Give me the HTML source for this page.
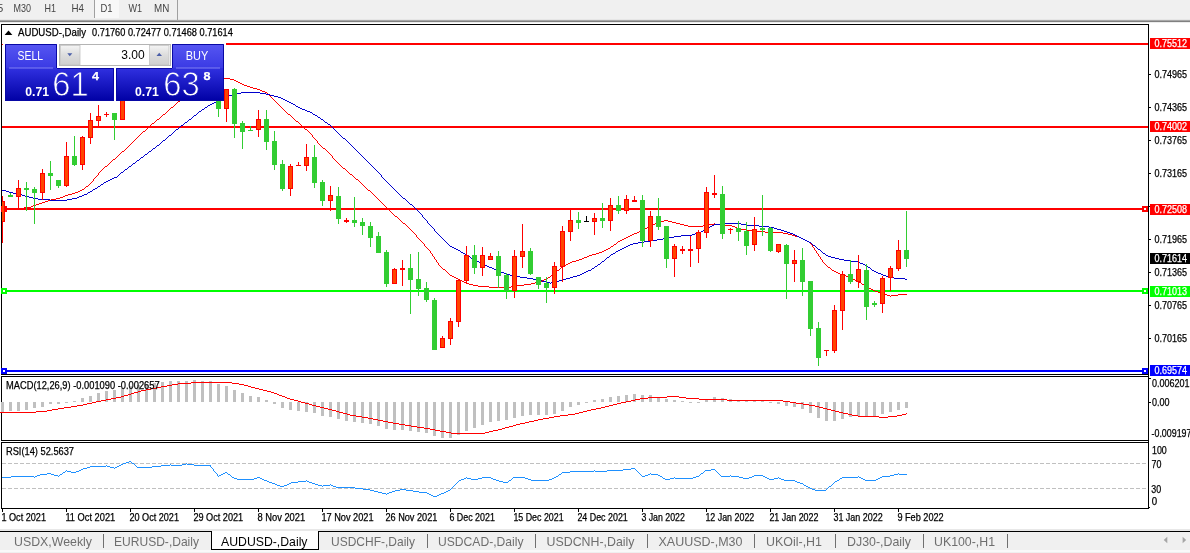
<!DOCTYPE html>
<html><head><meta charset="utf-8"><title>AUDUSD-,Daily</title>
<style>
html,body{margin:0;padding:0;background:#fff;overflow:hidden}
svg{display:block;font-family:"Liberation Sans",sans-serif}
text{white-space:pre}
</style></head><body>
<svg width="1190" height="553" viewBox="0 0 1190 553">
<rect x="0" y="0" width="1190" height="553" fill="#ffffff" />
<rect x="0" y="0" width="1190" height="20" fill="#f0f0f0" />
<rect x="0" y="19" width="1190" height="1" fill="#e6e6e6" />
<rect x="0" y="20" width="1190" height="1" fill="#a8a8a8" />
<rect x="0" y="21" width="1190" height="1" fill="#808080" />
<rect x="0" y="22" width="1190" height="1" fill="#ececec" />
<rect x="95" y="0" width="24" height="18" fill="#f8f8f8" />
<rect x="94" y="0" width="1" height="18" fill="#a0a0a0" />
<rect x="177" y="0" width="1" height="20" fill="#a0a0a0" />
<g font-size="10.8" fill="#444">
<text x="3.2" y="11.6" text-anchor="end">M5</text>
<text x="13.5" y="11.6" textLength="17.5" lengthAdjust="spacingAndGlyphs">M30</text>
<text x="44.5" y="11.6" textLength="11.5" lengthAdjust="spacingAndGlyphs">H1</text>
<text x="71.5" y="11.6" textLength="12.5" lengthAdjust="spacingAndGlyphs">H4</text>
<text x="100.4" y="11.6" textLength="12.1" lengthAdjust="spacingAndGlyphs">D1</text>
<text x="128.4" y="11.6" textLength="13.6" lengthAdjust="spacingAndGlyphs">W1</text>
<text x="154" y="11.6" textLength="15.3" lengthAdjust="spacingAndGlyphs">MN</text>
</g>
<g shape-rendering="crispEdges">
<rect x="1" y="24" width="1148" height="1" fill="#000" />
<rect x="1" y="24" width="1" height="351" fill="#000" />
<rect x="1" y="374" width="1148" height="1" fill="#000" />
<rect x="1148" y="24" width="1" height="485" fill="#000" />
<rect x="1" y="376" width="1148" height="1" fill="#000" />
<rect x="1" y="376" width="1" height="65" fill="#000" />
<rect x="1" y="440" width="1148" height="1" fill="#000" />
<rect x="1" y="442" width="1148" height="1" fill="#000" />
<rect x="1" y="442" width="1" height="67" fill="#000" />
<rect x="1" y="508" width="1148" height="1" fill="#000" />
</g>
<rect x="2" y="44" width="1" height="1" fill="#ff0000" />
<rect x="226" y="43" width="922" height="2" fill="#ff0000" shape-rendering="crispEdges"/>
<rect x="2" y="126" width="1146" height="2" fill="#ff0000" shape-rendering="crispEdges"/>
<rect x="2" y="208" width="1146" height="2" fill="#ff0000" shape-rendering="crispEdges"/>
<rect x="2" y="290" width="1146" height="2" fill="#00ff00" shape-rendering="crispEdges"/>
<rect x="2" y="370" width="1146" height="2" fill="#0000ff" shape-rendering="crispEdges"/>
<rect x="1" y="206" width="6" height="6" fill="#ff0000" shape-rendering="crispEdges"/>
<rect x="3" y="208" width="2" height="2" fill="#fff" shape-rendering="crispEdges"/>
<rect x="1142" y="206" width="6" height="6" fill="#ff0000" shape-rendering="crispEdges"/>
<rect x="1144" y="208" width="2" height="2" fill="#fff" shape-rendering="crispEdges"/>
<rect x="1" y="288" width="6" height="6" fill="#00ff00" shape-rendering="crispEdges"/>
<rect x="3" y="290" width="2" height="2" fill="#fff" shape-rendering="crispEdges"/>
<rect x="1142" y="288" width="6" height="6" fill="#00ff00" shape-rendering="crispEdges"/>
<rect x="1144" y="290" width="2" height="2" fill="#fff" shape-rendering="crispEdges"/>
<rect x="1" y="368" width="6" height="6" fill="#0000ff" shape-rendering="crispEdges"/>
<rect x="3" y="370" width="2" height="2" fill="#fff" shape-rendering="crispEdges"/>
<rect x="1142" y="368" width="6" height="6" fill="#0000ff" shape-rendering="crispEdges"/>
<rect x="1144" y="370" width="2" height="2" fill="#fff" shape-rendering="crispEdges"/>
<clipPath id="cm"><rect x="2" y="25" width="1146" height="349"/></clipPath>
<g clip-path="url(#cm)">
<path d="M8.5,209v1M9.5,209v1M10.5,209v1M11.5,209v1M12.5,209v1M13.5,209v1M14.5,209v1M15.5,209v1M16.5,208v1M17.5,208v1M18.5,208v1M19.5,208v1M20.5,208v1M21.5,208v1M22.5,208v1M23.5,208v1M24.5,207v1M25.5,207v1M26.5,207v1M27.5,207v1M28.5,207v1M29.5,207v1M30.5,207v1M31.5,206v1M32.5,206v1M33.5,205v1M34.5,205v1M35.5,205v1M36.5,204v1M37.5,204v1M38.5,204v1M39.5,203v1M40.5,203v1M41.5,203v1M42.5,202v1M43.5,202v1M44.5,202v1M45.5,201v1M46.5,201v1M47.5,201v1M48.5,200v1M49.5,200v1M50.5,200v1M51.5,199v1M52.5,199v1M53.5,199v1M54.5,199v1M55.5,199v1M56.5,198v1M57.5,198v1M58.5,198v1M59.5,198v1M60.5,197v1M61.5,197v1M62.5,197v1M63.5,196v1M64.5,196v1M65.5,195v1M66.5,195v1M67.5,195v1M68.5,194v1M69.5,194v1M70.5,194v1M71.5,194v1M72.5,193v1M73.5,193v1M74.5,193v1M75.5,192v1M76.5,192v1M77.5,192v1M78.5,191v1M79.5,191v1M80.5,190v1M81.5,190v1M82.5,189v1M83.5,189v1M84.5,188v1M85.5,187v1M86.5,186v1M87.5,186v1M88.5,185v1M89.5,184v1M90.5,183v1M91.5,182v1M92.5,181v1M93.5,179v2M94.5,178v1M95.5,177v1M96.5,176v1M97.5,175v1M98.5,173v2M99.5,172v1M100.5,171v1M101.5,170v1M102.5,169v1M103.5,168v1M104.5,167v1M105.5,166v1M106.5,166v1M107.5,165v1M108.5,164v1M109.5,163v1M110.5,162v1M111.5,161v1M112.5,160v1M113.5,159v1M114.5,159v1M115.5,158v1M116.5,157v1M117.5,156v1M118.5,155v1M119.5,154v1M120.5,153v1M121.5,152v1M122.5,151v1M123.5,151v1M124.5,150v1M125.5,149v1M126.5,148v1M127.5,147v1M128.5,146v1M129.5,145v1M130.5,144v1M131.5,143v1M132.5,142v1M133.5,141v1M134.5,140v1M135.5,139v1M136.5,138v1M137.5,137v1M138.5,136v1M139.5,135v1M140.5,134v1M141.5,133v1M142.5,132v1M143.5,131v1M144.5,131v1M145.5,130v1M146.5,129v1M147.5,128v1M148.5,127v1M149.5,126v1M150.5,125v1M151.5,124v1M152.5,123v1M153.5,123v1M154.5,122v1M155.5,121v1M156.5,120v1M157.5,119v1M158.5,119v1M159.5,118v1M160.5,117v1M161.5,116v1M162.5,115v1M163.5,114v1M164.5,114v1M165.5,113v1M166.5,112v1M167.5,111v1M168.5,110v1M169.5,109v1M170.5,108v1M171.5,107v1M172.5,107v1M173.5,106v1M174.5,105v1M175.5,104v1M176.5,103v1M177.5,102v1M178.5,101v1M179.5,101v1M180.5,100v1M181.5,99v1M182.5,98v1M183.5,98v1M184.5,97v1M185.5,96v1M186.5,95v1M187.5,94v1M188.5,94v1M189.5,93v1M190.5,92v1M191.5,91v1M192.5,91v1M193.5,90v1M194.5,89v1M195.5,89v1M196.5,88v1M197.5,87v1M198.5,87v1M199.5,86v1M200.5,85v1M201.5,85v1M202.5,84v1M203.5,83v1M204.5,83v1M205.5,82v1M206.5,82v1M207.5,81v1M208.5,81v1M209.5,81v1M210.5,80v1M211.5,80v1M212.5,80v1M213.5,79v1M214.5,79v1M215.5,79v1M216.5,78v1M217.5,78v1M218.5,78v1M219.5,78v1M220.5,78v1M221.5,78v1M222.5,78v1M223.5,78v1M224.5,78v1M225.5,78v1M226.5,78v1M227.5,78v1M228.5,78v1M229.5,78v1M230.5,79v1M231.5,79v1M232.5,79v1M233.5,79v1M234.5,80v1M235.5,80v1M236.5,81v1M237.5,81v1M238.5,82v1M239.5,82v1M240.5,83v1M241.5,83v1M242.5,84v1M243.5,84v1M244.5,85v1M245.5,85v1M246.5,85v1M247.5,86v1M248.5,86v1M249.5,86v1M250.5,87v1M251.5,87v1M252.5,87v1M253.5,88v1M254.5,88v1M255.5,88v1M256.5,88v1M257.5,89v1M258.5,89v1M259.5,89v1M260.5,90v1M261.5,90v1M262.5,91v1M263.5,91v1M264.5,91v1M265.5,92v1M266.5,92v1M267.5,93v1M268.5,94v1M269.5,95v1M270.5,96v1M271.5,97v1M272.5,98v1M273.5,99v1M274.5,100v1M275.5,101v1M276.5,102v1M277.5,103v1M278.5,104v1M279.5,105v1M280.5,106v1M281.5,107v1M282.5,108v1M283.5,109v1M284.5,110v1M285.5,111v1M286.5,112v1M287.5,113v1M288.5,114v1M289.5,114v1M290.5,115v1M291.5,116v1M292.5,117v1M293.5,118v1M294.5,119v1M295.5,120v1M296.5,121v1M297.5,121v1M298.5,122v1M299.5,123v1M300.5,124v1M301.5,125v1M302.5,126v1M303.5,127v1M304.5,128v1M305.5,129v1M306.5,129v1M307.5,130v1M308.5,131v1M309.5,132v1M310.5,133v1M311.5,134v1M312.5,135v2M313.5,137v1M314.5,138v1M315.5,139v1M316.5,140v1M317.5,141v2M318.5,143v1M319.5,144v1M320.5,145v1M321.5,146v1M322.5,147v1M323.5,148v1M324.5,148v1M325.5,149v1M326.5,150v1M327.5,151v1M328.5,152v1M329.5,153v1M330.5,154v1M331.5,155v1M332.5,156v2M333.5,158v1M334.5,159v1M335.5,160v1M336.5,161v1M337.5,162v1M338.5,163v1M339.5,164v1M340.5,165v1M341.5,166v1M342.5,167v1M343.5,168v1M344.5,168v1M345.5,169v1M346.5,170v1M347.5,171v1M348.5,172v1M349.5,173v1M350.5,174v1M351.5,174v1M352.5,175v1M353.5,176v1M354.5,177v1M355.5,178v1M356.5,179v1M357.5,179v1M358.5,180v1M359.5,181v1M360.5,182v1M361.5,183v1M362.5,184v1M363.5,185v1M364.5,186v1M365.5,187v1M366.5,188v1M367.5,189v1M368.5,190v1M369.5,190v1M370.5,191v1M371.5,192v1M372.5,193v1M373.5,194v1M374.5,195v1M375.5,196v1M376.5,197v1M377.5,198v1M378.5,199v1M379.5,200v1M380.5,201v1M381.5,202v1M382.5,203v1M383.5,204v1M384.5,205v1M385.5,206v1M386.5,207v1M387.5,208v1M388.5,209v1M389.5,210v1M390.5,211v1M391.5,212v1M392.5,213v1M393.5,214v1M394.5,215v1M395.5,216v1M396.5,216v1M397.5,217v1M398.5,218v1M399.5,219v1M400.5,220v1M401.5,221v1M402.5,222v1M403.5,223v1M404.5,223v1M405.5,224v1M406.5,225v1M407.5,226v1M408.5,227v1M409.5,228v1M410.5,229v1M411.5,230v1M412.5,231v1M413.5,232v1M414.5,233v1M415.5,234v1M416.5,235v2M417.5,237v1M418.5,238v1M419.5,239v1M420.5,240v1M421.5,241v1M422.5,242v1M423.5,243v1M424.5,244v2M425.5,246v1M426.5,247v1M427.5,248v1M428.5,249v1M429.5,250v1M430.5,251v2M431.5,253v1M432.5,254v2M433.5,256v1M434.5,257v2M435.5,259v1M436.5,260v2M437.5,262v1M438.5,263v2M439.5,265v1M440.5,266v1M441.5,267v1M442.5,268v1M443.5,269v1M444.5,269v1M445.5,270v1M446.5,271v1M447.5,272v1M448.5,273v1M449.5,274v1M450.5,275v1M451.5,275v1M452.5,276v1M453.5,276v1M454.5,277v1M455.5,277v1M456.5,278v1M457.5,278v1M458.5,279v1M459.5,279v1M460.5,280v1M461.5,280v1M462.5,281v1M463.5,281v1M464.5,282v1M465.5,282v1M466.5,282v1M467.5,283v1M468.5,283v1M469.5,284v1M470.5,284v1M471.5,284v1M472.5,284v1M473.5,285v1M474.5,285v1M475.5,285v1M476.5,285v1M477.5,285v1M478.5,286v1M479.5,286v1M480.5,286v1M481.5,286v1M482.5,286v1M483.5,286v1M484.5,286v1M485.5,286v1M486.5,286v1M487.5,286v1M488.5,286v1M489.5,287v1M490.5,287v1M491.5,287v1M492.5,287v1M493.5,287v1M494.5,287v1M495.5,287v1M496.5,287v1M497.5,287v1M498.5,287v1M499.5,287v1M500.5,287v1M501.5,287v1M502.5,287v1M503.5,287v1M504.5,287v1M505.5,287v1M506.5,287v1M507.5,287v1M508.5,287v1M509.5,287v1M510.5,287v1M511.5,286v1M512.5,286v1M513.5,286v1M514.5,286v1M515.5,286v1M516.5,286v1M517.5,285v1M518.5,285v1M519.5,285v1M520.5,285v1M521.5,285v1M522.5,285v1M523.5,285v1M524.5,284v1M525.5,284v1M526.5,284v1M527.5,284v1M528.5,284v1M529.5,284v1M530.5,284v1M531.5,283v1M532.5,283v1M533.5,283v1M534.5,283v1M535.5,282v1M536.5,282v1M537.5,282v1M538.5,282v1M539.5,281v1M540.5,281v1M541.5,281v1M542.5,280v1M543.5,280v1M544.5,279v1M545.5,279v1M546.5,278v1M547.5,278v1M548.5,277v1M549.5,277v1M550.5,276v1M551.5,275v1M552.5,274v1M553.5,274v1M554.5,273v1M555.5,272v1M556.5,271v1M557.5,270v1M558.5,270v1M559.5,269v1M560.5,268v1M561.5,267v1M562.5,267v1M563.5,266v1M564.5,266v1M565.5,265v1M566.5,264v1M567.5,264v1M568.5,263v1M569.5,263v1M570.5,262v1M571.5,262v1M572.5,261v1M573.5,261v1M574.5,261v1M575.5,261v1M576.5,260v1M577.5,260v1M578.5,260v1M579.5,259v1M580.5,259v1M581.5,259v1M582.5,258v1M583.5,258v1M584.5,257v1M585.5,257v1M586.5,257v1M587.5,256v1M588.5,256v1M589.5,255v1M590.5,255v1M591.5,255v1M592.5,254v1M593.5,254v1M594.5,254v1M595.5,254v1M596.5,253v1M597.5,253v1M598.5,253v1M599.5,252v1M600.5,252v1M601.5,252v1M602.5,251v1M603.5,251v1M604.5,250v1M605.5,250v1M606.5,249v1M607.5,249v1M608.5,248v1M609.5,248v1M610.5,247v1M611.5,246v1M612.5,246v1M613.5,245v1M614.5,244v1M615.5,244v1M616.5,243v1M617.5,242v1M618.5,241v1M619.5,241v1M620.5,240v1M621.5,240v1M622.5,239v1M623.5,239v1M624.5,238v1M625.5,238v1M626.5,237v1M627.5,237v1M628.5,236v1M629.5,236v1M630.5,235v1M631.5,235v1M632.5,234v1M633.5,234v1M634.5,233v1M635.5,233v1M636.5,233v1M637.5,232v1M638.5,232v1M639.5,231v1M640.5,231v1M641.5,230v1M642.5,230v1M643.5,229v1M644.5,229v1M645.5,228v1M646.5,228v1M647.5,227v1M648.5,227v1M649.5,226v1M650.5,226v1M651.5,225v1M652.5,225v1M653.5,224v1M654.5,224v1M655.5,223v1M656.5,223v1M657.5,222v1M658.5,222v1M659.5,221v1M660.5,221v1M661.5,221v1M662.5,221v1M663.5,221v1M664.5,220v1M665.5,220v1M666.5,220v1M667.5,220v1M668.5,221v1M669.5,221v1M670.5,221v1M671.5,221v1M672.5,222v1M673.5,222v1M674.5,222v1M675.5,222v1M676.5,223v1M677.5,223v1M678.5,223v1M679.5,223v1M680.5,224v1M681.5,224v1M682.5,224v1M683.5,224v1M684.5,225v1M685.5,225v1M686.5,225v1M687.5,225v1M688.5,226v1M689.5,226v1M690.5,226v1M691.5,226v1M692.5,226v1M693.5,226v1M694.5,226v1M695.5,226v1M696.5,226v1M697.5,226v1M698.5,226v1M699.5,226v1M700.5,226v1M701.5,226v1M702.5,226v1M703.5,225v1M704.5,225v1M705.5,225v1M706.5,225v1M707.5,225v1M708.5,225v1M709.5,224v1M710.5,224v1M711.5,224v1M712.5,224v1M713.5,224v1M714.5,223v1M715.5,224v1M716.5,224v1M717.5,224v1M718.5,224v1M719.5,224v1M720.5,224v1M721.5,224v1M722.5,224v1M723.5,224v1M724.5,224v1M725.5,225v1M726.5,225v1M727.5,225v1M728.5,225v1M729.5,225v1M730.5,225v1M731.5,225v1M732.5,226v1M733.5,226v1M734.5,226v1M735.5,227v1M736.5,227v1M737.5,228v1M738.5,228v1M739.5,228v1M740.5,229v1M741.5,229v1M742.5,229v1M743.5,229v1M744.5,229v1M745.5,229v1M746.5,229v1M747.5,230v1M748.5,230v1M749.5,230v1M750.5,230v1M751.5,230v1M752.5,230v1M753.5,230v1M754.5,230v1M755.5,231v1M756.5,231v1M757.5,231v1M758.5,231v1M759.5,231v1M760.5,231v1M761.5,231v1M762.5,231v1M763.5,231v1M764.5,231v1M765.5,232v1M766.5,232v1M767.5,232v1M768.5,232v1M769.5,232v1M770.5,232v1M771.5,232v1M772.5,232v1M773.5,232v1M774.5,232v1M775.5,232v1M776.5,232v1M777.5,232v1M778.5,232v1M779.5,232v1M780.5,232v1M781.5,232v1M782.5,232v1M783.5,233v1M784.5,233v1M785.5,233v1M786.5,233v1M787.5,233v1M788.5,234v1M789.5,234v1M790.5,234v1M791.5,234v1M792.5,235v1M793.5,235v1M794.5,235v1M795.5,236v1M796.5,236v1M797.5,236v1M798.5,236v1M799.5,237v1M800.5,237v1M801.5,238v1M802.5,238v1M803.5,239v1M804.5,239v1M805.5,240v1M806.5,240v1M807.5,241v1M808.5,241v1M809.5,242v1M810.5,242v2M811.5,244v1M812.5,245v2M813.5,247v1M814.5,248v2M815.5,250v1M816.5,251v2M817.5,253v1M818.5,254v2M819.5,256v1M820.5,257v2M821.5,259v1M822.5,260v2M823.5,262v1M824.5,263v1M825.5,264v1M826.5,265v1M827.5,266v1M828.5,267v1M829.5,267v1M830.5,268v1M831.5,269v1M832.5,270v1M833.5,270v1M834.5,271v1M835.5,271v1M836.5,272v1M837.5,272v1M838.5,273v1M839.5,273v1M840.5,274v1M841.5,274v1M842.5,274v1M843.5,275v1M844.5,275v1M845.5,275v1M846.5,276v1M847.5,276v1M848.5,276v1M849.5,277v1M850.5,277v1M851.5,278v1M852.5,278v1M853.5,279v1M854.5,279v1M855.5,280v1M856.5,280v1M857.5,281v1M858.5,281v1M859.5,282v1M860.5,282v1M861.5,283v1M862.5,284v1M863.5,284v1M864.5,285v1M865.5,285v1M866.5,286v1M867.5,287v1M868.5,287v1M869.5,288v1M870.5,288v1M871.5,289v1M872.5,289v1M873.5,290v1M874.5,290v1M875.5,291v1M876.5,291v1M877.5,291v1M878.5,292v1M879.5,292v1M880.5,293v1M881.5,293v1M882.5,293v1M883.5,294v1M884.5,294v1M885.5,294v1M886.5,294v1M887.5,295v1M888.5,295v1M889.5,295v1M890.5,296v1M891.5,295v1M892.5,295v1M893.5,295v1M894.5,295v1M895.5,295v1M896.5,295v1M897.5,295v1M898.5,294v1M899.5,294v1M900.5,294v1M901.5,294v1M902.5,294v1M903.5,294v1M904.5,294v1M905.5,294v1M906.5,294v1" fill="none" stroke="#ff0000" stroke-width="1" shape-rendering="crispEdges"/>
<path d="M2.5,190v1M3.5,190v1M4.5,190v1M5.5,190v1M6.5,191v1M7.5,191v1M8.5,191v1M9.5,192v1M10.5,192v1M11.5,192v1M12.5,192v1M13.5,193v1M14.5,193v1M15.5,193v1M16.5,193v1M17.5,193v1M18.5,194v1M19.5,194v1M20.5,194v1M21.5,194v1M22.5,195v1M23.5,195v1M24.5,195v1M25.5,196v1M26.5,196v1M27.5,196v1M28.5,196v1M29.5,197v1M30.5,197v1M31.5,197v1M32.5,197v1M33.5,198v1M34.5,198v1M35.5,198v1M36.5,198v1M37.5,198v1M38.5,199v1M39.5,199v1M40.5,199v1M41.5,199v1M42.5,199v1M43.5,199v1M44.5,199v1M45.5,199v1M46.5,199v1M47.5,199v1M48.5,199v1M49.5,199v1M50.5,200v1M51.5,200v1M52.5,200v1M53.5,200v1M54.5,200v1M55.5,200v1M56.5,200v1M57.5,200v1M58.5,200v1M59.5,200v1M60.5,200v1M61.5,200v1M62.5,200v1M63.5,200v1M64.5,200v1M65.5,200v1M66.5,200v1M67.5,199v1M68.5,199v1M69.5,199v1M70.5,199v1M71.5,199v1M72.5,198v1M73.5,198v1M74.5,198v1M75.5,198v1M76.5,198v1M77.5,197v1M78.5,197v1M79.5,196v1M80.5,196v1M81.5,196v1M82.5,195v1M83.5,195v1M84.5,194v1M85.5,194v1M86.5,194v1M87.5,193v1M88.5,192v1M89.5,192v1M90.5,191v1M91.5,191v1M92.5,190v1M93.5,189v1M94.5,189v1M95.5,188v1M96.5,188v1M97.5,187v1M98.5,186v1M99.5,186v1M100.5,185v1M101.5,184v1M102.5,184v1M103.5,183v1M104.5,182v1M105.5,182v1M106.5,181v1M107.5,181v1M108.5,180v1M109.5,180v1M110.5,179v1M111.5,179v1M112.5,178v1M113.5,178v1M114.5,177v1M115.5,177v1M116.5,177v1M117.5,176v1M118.5,175v1M119.5,174v1M120.5,173v1M121.5,172v1M122.5,172v1M123.5,171v1M124.5,170v1M125.5,169v1M126.5,169v1M127.5,168v1M128.5,167v1M129.5,166v1M130.5,166v1M131.5,165v1M132.5,164v1M133.5,163v1M134.5,163v1M135.5,162v1M136.5,161v1M137.5,160v1M138.5,160v1M139.5,159v1M140.5,158v1M141.5,157v1M142.5,157v1M143.5,156v1M144.5,155v1M145.5,154v1M146.5,154v1M147.5,153v1M148.5,152v1M149.5,151v1M150.5,151v1M151.5,150v1M152.5,149v1M153.5,148v1M154.5,148v1M155.5,147v1M156.5,146v1M157.5,145v1M158.5,145v1M159.5,144v1M160.5,143v1M161.5,142v1M162.5,141v1M163.5,140v1M164.5,140v1M165.5,139v1M166.5,138v1M167.5,137v1M168.5,136v1M169.5,135v1M170.5,135v1M171.5,134v1M172.5,133v1M173.5,132v1M174.5,131v1M175.5,130v1M176.5,129v1M177.5,129v1M178.5,128v1M179.5,127v1M180.5,126v1M181.5,125v1M182.5,125v1M183.5,124v1M184.5,123v1M185.5,122v1M186.5,122v1M187.5,121v1M188.5,120v1M189.5,119v1M190.5,119v1M191.5,118v1M192.5,117v1M193.5,116v1M194.5,115v1M195.5,115v1M196.5,114v1M197.5,113v1M198.5,112v1M199.5,111v1M200.5,111v1M201.5,110v1M202.5,109v1M203.5,109v1M204.5,108v1M205.5,107v1M206.5,107v1M207.5,106v1M208.5,105v1M209.5,105v1M210.5,104v1M211.5,104v1M212.5,103v1M213.5,103v1M214.5,102v1M215.5,102v1M216.5,101v1M217.5,101v1M218.5,100v1M219.5,100v1M220.5,100v1M221.5,99v1M222.5,99v1M223.5,98v1M224.5,98v1M225.5,97v1M226.5,97v1M227.5,96v1M228.5,96v1M229.5,95v1M230.5,95v1M231.5,95v1M232.5,94v1M233.5,94v1M234.5,94v1M235.5,94v1M236.5,93v1M237.5,93v1M238.5,93v1M239.5,93v1M240.5,93v1M241.5,92v1M242.5,92v1M243.5,92v1M244.5,92v1M245.5,92v1M246.5,92v1M247.5,92v1M248.5,92v1M249.5,92v1M250.5,92v1M251.5,92v1M252.5,92v1M253.5,92v1M254.5,92v1M255.5,92v1M256.5,92v1M257.5,92v1M258.5,92v1M259.5,92v1M260.5,93v1M261.5,93v1M262.5,93v1M263.5,93v1M264.5,93v1M265.5,93v1M266.5,94v1M267.5,94v1M268.5,94v1M269.5,94v1M270.5,95v1M271.5,95v1M272.5,95v1M273.5,95v1M274.5,96v1M275.5,96v1M276.5,96v1M277.5,96v1M278.5,97v1M279.5,97v1M280.5,97v1M281.5,98v1M282.5,98v1M283.5,99v1M284.5,99v1M285.5,100v1M286.5,100v1M287.5,101v1M288.5,101v1M289.5,102v1M290.5,102v1M291.5,103v1M292.5,103v1M293.5,104v1M294.5,104v1M295.5,105v1M296.5,106v1M297.5,106v1M298.5,107v1M299.5,107v1M300.5,108v1M301.5,108v1M302.5,109v1M303.5,109v1M304.5,109v1M305.5,110v1M306.5,110v1M307.5,111v1M308.5,111v1M309.5,111v1M310.5,112v1M311.5,112v1M312.5,113v1M313.5,114v1M314.5,114v1M315.5,115v1M316.5,115v1M317.5,116v1M318.5,117v1M319.5,117v1M320.5,118v1M321.5,119v1M322.5,119v1M323.5,120v1M324.5,121v1M325.5,122v1M326.5,122v1M327.5,123v1M328.5,124v1M329.5,124v1M330.5,125v1M331.5,126v1M332.5,127v1M333.5,128v1M334.5,129v1M335.5,130v1M336.5,131v1M337.5,132v1M338.5,133v1M339.5,134v1M340.5,135v1M341.5,136v1M342.5,137v1M343.5,138v1M344.5,138v1M345.5,139v1M346.5,140v1M347.5,141v1M348.5,142v1M349.5,143v1M350.5,144v1M351.5,145v1M352.5,146v1M353.5,147v1M354.5,148v1M355.5,149v1M356.5,150v1M357.5,151v1M358.5,152v1M359.5,153v1M360.5,154v1M361.5,155v1M362.5,156v1M363.5,157v1M364.5,158v1M365.5,159v1M366.5,160v1M367.5,161v1M368.5,162v1M369.5,163v1M370.5,164v1M371.5,165v1M372.5,166v1M373.5,167v1M374.5,168v1M375.5,169v1M376.5,170v1M377.5,171v1M378.5,172v1M379.5,173v1M380.5,174v1M381.5,175v2M382.5,177v1M383.5,178v1M384.5,179v1M385.5,180v1M386.5,181v1M387.5,182v1M388.5,183v1M389.5,184v1M390.5,185v1M391.5,186v1M392.5,187v1M393.5,188v1M394.5,189v1M395.5,190v1M396.5,191v1M397.5,192v1M398.5,193v1M399.5,194v1M400.5,195v1M401.5,196v1M402.5,197v1M403.5,198v1M404.5,198v1M405.5,199v1M406.5,200v1M407.5,201v1M408.5,202v1M409.5,203v1M410.5,204v1M411.5,204v1M412.5,205v1M413.5,206v1M414.5,207v1M415.5,208v1M416.5,209v1M417.5,210v1M418.5,211v1M419.5,212v1M420.5,213v1M421.5,214v1M422.5,215v2M423.5,217v1M424.5,218v1M425.5,219v1M426.5,220v1M427.5,221v2M428.5,223v1M429.5,224v1M430.5,225v1M431.5,226v1M432.5,227v1M433.5,228v1M434.5,229v2M435.5,231v1M436.5,232v1M437.5,233v1M438.5,234v1M439.5,235v1M440.5,236v1M441.5,237v1M442.5,238v1M443.5,239v1M444.5,240v1M445.5,241v1M446.5,242v1M447.5,243v1M448.5,244v1M449.5,245v1M450.5,246v1M451.5,246v1M452.5,247v1M453.5,247v1M454.5,248v1M455.5,248v1M456.5,249v1M457.5,249v1M458.5,250v1M459.5,250v1M460.5,251v1M461.5,252v1M462.5,252v1M463.5,253v1M464.5,253v1M465.5,254v1M466.5,255v1M467.5,255v1M468.5,256v1M469.5,256v1M470.5,257v1M471.5,258v1M472.5,258v1M473.5,259v1M474.5,259v1M475.5,260v1M476.5,260v1M477.5,261v1M478.5,261v1M479.5,262v1M480.5,262v1M481.5,263v1M482.5,263v1M483.5,264v1M484.5,264v1M485.5,265v1M486.5,265v1M487.5,266v1M488.5,266v1M489.5,267v1M490.5,267v1M491.5,267v1M492.5,268v1M493.5,268v1M494.5,269v1M495.5,269v1M496.5,270v1M497.5,270v1M498.5,271v1M499.5,271v1M500.5,271v1M501.5,272v1M502.5,272v1M503.5,272v1M504.5,273v1M505.5,273v1M506.5,273v1M507.5,274v1M508.5,274v1M509.5,274v1M510.5,275v1M511.5,275v1M512.5,275v1M513.5,275v1M514.5,275v1M515.5,276v1M516.5,276v1M517.5,276v1M518.5,276v1M519.5,276v1M520.5,277v1M521.5,277v1M522.5,277v1M523.5,277v1M524.5,277v1M525.5,277v1M526.5,277v1M527.5,278v1M528.5,278v1M529.5,278v1M530.5,278v1M531.5,278v1M532.5,278v1M533.5,279v1M534.5,279v1M535.5,279v1M536.5,279v1M537.5,279v1M538.5,280v1M539.5,280v1M540.5,280v1M541.5,280v1M542.5,281v1M543.5,281v1M544.5,281v1M545.5,281v1M546.5,282v1M547.5,282v1M548.5,282v1M549.5,282v1M550.5,283v1M551.5,282v1M552.5,282v1M553.5,282v1M554.5,282v1M555.5,281v1M556.5,281v1M557.5,281v1M558.5,281v1M559.5,280v1M560.5,280v1M561.5,280v1M562.5,279v1M563.5,279v1M564.5,279v1M565.5,279v1M566.5,278v1M567.5,278v1M568.5,278v1M569.5,278v1M570.5,277v1M571.5,277v1M572.5,277v1M573.5,276v1M574.5,276v1M575.5,276v1M576.5,276v1M577.5,275v1M578.5,275v1M579.5,275v1M580.5,274v1M581.5,274v1M582.5,273v1M583.5,273v1M584.5,272v1M585.5,272v1M586.5,271v1M587.5,271v1M588.5,270v1M589.5,270v1M590.5,270v1M591.5,269v1M592.5,268v1M593.5,268v1M594.5,267v1M595.5,266v1M596.5,266v1M597.5,265v1M598.5,264v1M599.5,264v1M600.5,263v1M601.5,262v1M602.5,261v1M603.5,261v1M604.5,260v1M605.5,259v1M606.5,258v1M607.5,257v1M608.5,257v1M609.5,256v1M610.5,255v1M611.5,254v1M612.5,254v1M613.5,253v1M614.5,253v1M615.5,252v1M616.5,251v1M617.5,251v1M618.5,250v1M619.5,250v1M620.5,249v1M621.5,249v1M622.5,248v1M623.5,248v1M624.5,247v1M625.5,247v1M626.5,246v1M627.5,246v1M628.5,245v1M629.5,245v1M630.5,244v1M631.5,244v1M632.5,244v1M633.5,243v1M634.5,243v1M635.5,243v1M636.5,243v1M637.5,243v1M638.5,242v1M639.5,242v1M640.5,242v1M641.5,242v1M642.5,242v1M643.5,242v1M644.5,241v1M645.5,241v1M646.5,241v1M647.5,241v1M648.5,241v1M649.5,241v1M650.5,240v1M651.5,240v1M652.5,240v1M653.5,240v1M654.5,240v1M655.5,240v1M656.5,240v1M657.5,239v1M658.5,239v1M659.5,239v1M660.5,239v1M661.5,239v1M662.5,239v1M663.5,238v1M664.5,238v1M665.5,238v1M666.5,238v1M667.5,238v1M668.5,237v1M669.5,237v1M670.5,237v1M671.5,237v1M672.5,237v1M673.5,237v1M674.5,236v1M675.5,236v1M676.5,236v1M677.5,236v1M678.5,236v1M679.5,236v1M680.5,236v1M681.5,235v1M682.5,235v1M683.5,235v1M684.5,235v1M685.5,235v1M686.5,235v1M687.5,235v1M688.5,235v1M689.5,235v1M690.5,235v1M691.5,235v1M692.5,234v1M693.5,234v1M694.5,234v1M695.5,233v1M696.5,233v1M697.5,233v1M698.5,233v1M699.5,232v1M700.5,232v1M701.5,231v1M702.5,231v1M703.5,230v1M704.5,230v1M705.5,229v1M706.5,228v1M707.5,228v1M708.5,227v1M709.5,227v1M710.5,226v1M711.5,226v1M712.5,225v1M713.5,225v1M714.5,224v1M715.5,224v1M716.5,224v1M717.5,224v1M718.5,224v1M719.5,224v1M720.5,223v1M721.5,223v1M722.5,223v1M723.5,223v1M724.5,223v1M725.5,223v1M726.5,223v1M727.5,223v1M728.5,223v1M729.5,223v1M730.5,223v1M731.5,223v1M732.5,223v1M733.5,223v1M734.5,223v1M735.5,223v1M736.5,223v1M737.5,223v1M738.5,223v1M739.5,223v1M740.5,223v1M741.5,224v1M742.5,224v1M743.5,224v1M744.5,224v1M745.5,224v1M746.5,224v1M747.5,225v1M748.5,225v1M749.5,225v1M750.5,225v1M751.5,225v1M752.5,225v1M753.5,225v1M754.5,225v1M755.5,225v1M756.5,225v1M757.5,225v1M758.5,225v1M759.5,226v1M760.5,226v1M761.5,226v1M762.5,226v1M763.5,226v1M764.5,226v1M765.5,226v1M766.5,226v1M767.5,226v1M768.5,226v1M769.5,227v1M770.5,227v1M771.5,227v1M772.5,227v1M773.5,227v1M774.5,228v1M775.5,228v1M776.5,228v1M777.5,229v1M778.5,229v1M779.5,229v1M780.5,229v1M781.5,230v1M782.5,230v1M783.5,230v1M784.5,231v1M785.5,231v1M786.5,231v1M787.5,232v1M788.5,232v1M789.5,232v1M790.5,233v1M791.5,233v1M792.5,233v1M793.5,234v1M794.5,234v1M795.5,235v1M796.5,235v1M797.5,236v1M798.5,236v1M799.5,237v1M800.5,237v1M801.5,238v1M802.5,238v1M803.5,239v1M804.5,239v1M805.5,240v1M806.5,240v1M807.5,241v1M808.5,241v1M809.5,242v1M810.5,242v1M811.5,243v1M812.5,244v1M813.5,245v1M814.5,245v1M815.5,246v1M816.5,247v1M817.5,248v1M818.5,249v1M819.5,249v1M820.5,250v1M821.5,251v1M822.5,252v1M823.5,253v1M824.5,253v1M825.5,254v1M826.5,255v1M827.5,255v1M828.5,256v1M829.5,256v1M830.5,256v1M831.5,257v1M832.5,257v1M833.5,257v1M834.5,257v1M835.5,258v1M836.5,258v1M837.5,258v1M838.5,258v1M839.5,259v1M840.5,259v1M841.5,259v1M842.5,259v1M843.5,259v1M844.5,260v1M845.5,260v1M846.5,260v1M847.5,260v1M848.5,260v1M849.5,260v1M850.5,260v1M851.5,261v1M852.5,261v1M853.5,261v1M854.5,261v1M855.5,261v1M856.5,261v1M857.5,261v1M858.5,262v1M859.5,262v1M860.5,263v1M861.5,263v1M862.5,263v1M863.5,264v1M864.5,264v1M865.5,265v1M866.5,265v1M867.5,266v1M868.5,267v1M869.5,267v1M870.5,268v1M871.5,269v1M872.5,270v1M873.5,270v1M874.5,271v1M875.5,271v1M876.5,272v1M877.5,272v1M878.5,273v1M879.5,273v1M880.5,273v1M881.5,274v1M882.5,274v1M883.5,275v1M884.5,275v1M885.5,275v1M886.5,276v1M887.5,276v1M888.5,276v1M889.5,276v1M890.5,277v1M891.5,277v1M892.5,277v1M893.5,277v1M894.5,278v1M895.5,278v1M896.5,278v1M897.5,278v1M898.5,278v1M899.5,278v1M900.5,278v1M901.5,278v1M902.5,278v1M903.5,278v1M904.5,278v1M905.5,279v1M906.5,279v1" fill="none" stroke="#0000cd" stroke-width="1" shape-rendering="crispEdges"/>
<g shape-rendering="crispEdges">
<rect x="2" y="196" width="1" height="47" fill="#ff0000" />
<rect x="0" y="201" width="5" height="21" fill="#ff0000" />
<rect x="1" y="202" width="3" height="19" fill="#ff4500" />
<rect x="10" y="193" width="1" height="4" fill="#32cd32" />
<rect x="8" y="195" width="5" height="2" fill="#32cd32" />
<rect x="18" y="180" width="1" height="28" fill="#ff0000" />
<rect x="16" y="188" width="5" height="9" fill="#ff0000" />
<rect x="17" y="189" width="3" height="7" fill="#ff4500" />
<rect x="26" y="182" width="1" height="29" fill="#32cd32" />
<rect x="24" y="188" width="5" height="2" fill="#32cd32" />
<rect x="34" y="187" width="1" height="37" fill="#32cd32" />
<rect x="32" y="189" width="5" height="4" fill="#32cd32" />
<rect x="42" y="169" width="1" height="31" fill="#ff0000" />
<rect x="40" y="173" width="5" height="20" fill="#ff0000" />
<rect x="41" y="174" width="3" height="18" fill="#ff4500" />
<rect x="50" y="161" width="1" height="29" fill="#32cd32" />
<rect x="48" y="173" width="5" height="3" fill="#32cd32" />
<rect x="58" y="180" width="1" height="8" fill="#32cd32" />
<rect x="56" y="180" width="5" height="6" fill="#32cd32" />
<rect x="66" y="142" width="1" height="45" fill="#ff0000" />
<rect x="64" y="156" width="5" height="30" fill="#ff0000" />
<rect x="65" y="157" width="3" height="28" fill="#ff4500" />
<rect x="74" y="136" width="1" height="30" fill="#32cd32" />
<rect x="72" y="156" width="5" height="9" fill="#32cd32" />
<rect x="82" y="136" width="1" height="34" fill="#ff0000" />
<rect x="80" y="137" width="5" height="28" fill="#ff0000" />
<rect x="81" y="138" width="3" height="26" fill="#ff4500" />
<rect x="90" y="113" width="1" height="31" fill="#ff0000" />
<rect x="88" y="120" width="5" height="18" fill="#ff0000" />
<rect x="89" y="121" width="3" height="16" fill="#ff4500" />
<rect x="98" y="105" width="1" height="21" fill="#ff0000" />
<rect x="96" y="116" width="5" height="5" fill="#ff0000" />
<rect x="97" y="117" width="3" height="3" fill="#ff4500" />
<rect x="106" y="112" width="1" height="5" fill="#ff0000" />
<rect x="104" y="114" width="5" height="1" fill="#ff0000" />
<rect x="114" y="113" width="1" height="27" fill="#32cd32" />
<rect x="112" y="113" width="5" height="7" fill="#32cd32" />
<rect x="122" y="84" width="1" height="36" fill="#ff0000" />
<rect x="120" y="88" width="5" height="32" fill="#ff0000" />
<rect x="121" y="89" width="3" height="30" fill="#ff4500" />
<rect x="218" y="96" width="1" height="21" fill="#32cd32" />
<rect x="216" y="98" width="5" height="11" fill="#32cd32" />
<rect x="226" y="89" width="1" height="33" fill="#ff0000" />
<rect x="224" y="89" width="5" height="20" fill="#ff0000" />
<rect x="225" y="90" width="3" height="18" fill="#ff4500" />
<rect x="234" y="88" width="1" height="50" fill="#32cd32" />
<rect x="232" y="89" width="5" height="35" fill="#32cd32" />
<rect x="242" y="121" width="1" height="28" fill="#32cd32" />
<rect x="240" y="123" width="5" height="9" fill="#32cd32" />
<rect x="250" y="126" width="1" height="4" fill="#32cd32" />
<rect x="248" y="130" width="5" height="1" fill="#32cd32" />
<rect x="258" y="110" width="1" height="27" fill="#ff0000" />
<rect x="256" y="119" width="5" height="11" fill="#ff0000" />
<rect x="257" y="120" width="3" height="9" fill="#ff4500" />
<rect x="266" y="110" width="1" height="40" fill="#32cd32" />
<rect x="264" y="119" width="5" height="23" fill="#32cd32" />
<rect x="274" y="131" width="1" height="39" fill="#32cd32" />
<rect x="272" y="141" width="5" height="24" fill="#32cd32" />
<rect x="282" y="160" width="1" height="31" fill="#32cd32" />
<rect x="280" y="164" width="5" height="25" fill="#32cd32" />
<rect x="290" y="164" width="1" height="32" fill="#ff0000" />
<rect x="288" y="166" width="5" height="23" fill="#ff0000" />
<rect x="289" y="167" width="3" height="21" fill="#ff4500" />
<rect x="298" y="162" width="1" height="4" fill="#ff0000" />
<rect x="296" y="165" width="5" height="1" fill="#ff0000" />
<rect x="306" y="144" width="1" height="27" fill="#ff0000" />
<rect x="304" y="157" width="5" height="9" fill="#ff0000" />
<rect x="305" y="158" width="3" height="7" fill="#ff4500" />
<rect x="314" y="145" width="1" height="43" fill="#32cd32" />
<rect x="312" y="157" width="5" height="26" fill="#32cd32" />
<rect x="322" y="180" width="1" height="26" fill="#32cd32" />
<rect x="320" y="182" width="5" height="19" fill="#32cd32" />
<rect x="330" y="186" width="1" height="25" fill="#ff0000" />
<rect x="328" y="195" width="5" height="6" fill="#ff0000" />
<rect x="329" y="196" width="3" height="4" fill="#ff4500" />
<rect x="338" y="187" width="1" height="37" fill="#32cd32" />
<rect x="336" y="196" width="5" height="23" fill="#32cd32" />
<rect x="346" y="218" width="1" height="5" fill="#ff0000" />
<rect x="344" y="220" width="5" height="2" fill="#ff0000" />
<rect x="354" y="197" width="1" height="30" fill="#32cd32" />
<rect x="352" y="220" width="5" height="3" fill="#32cd32" />
<rect x="362" y="218" width="1" height="17" fill="#32cd32" />
<rect x="360" y="222" width="5" height="4" fill="#32cd32" />
<rect x="370" y="222" width="1" height="25" fill="#32cd32" />
<rect x="368" y="226" width="5" height="12" fill="#32cd32" />
<rect x="378" y="232" width="1" height="21" fill="#32cd32" />
<rect x="376" y="236" width="5" height="17" fill="#32cd32" />
<rect x="386" y="250" width="1" height="37" fill="#32cd32" />
<rect x="384" y="252" width="5" height="32" fill="#32cd32" />
<rect x="394" y="268" width="1" height="16" fill="#ff0000" />
<rect x="392" y="269" width="5" height="15" fill="#ff0000" />
<rect x="393" y="270" width="3" height="13" fill="#ff4500" />
<rect x="402" y="260" width="1" height="26" fill="#ff0000" />
<rect x="400" y="268" width="5" height="2" fill="#ff0000" />
<rect x="410" y="254" width="1" height="60" fill="#32cd32" />
<rect x="408" y="268" width="5" height="12" fill="#32cd32" />
<rect x="418" y="252" width="1" height="44" fill="#32cd32" />
<rect x="416" y="279" width="5" height="10" fill="#32cd32" />
<rect x="426" y="282" width="1" height="20" fill="#32cd32" />
<rect x="424" y="288" width="5" height="12" fill="#32cd32" />
<rect x="434" y="298" width="1" height="52" fill="#32cd32" />
<rect x="432" y="300" width="5" height="50" fill="#32cd32" />
<rect x="442" y="336" width="1" height="12" fill="#ff0000" />
<rect x="440" y="338" width="5" height="10" fill="#ff0000" />
<rect x="441" y="339" width="3" height="8" fill="#ff4500" />
<rect x="450" y="318" width="1" height="27" fill="#ff0000" />
<rect x="448" y="321" width="5" height="18" fill="#ff0000" />
<rect x="449" y="322" width="3" height="16" fill="#ff4500" />
<rect x="458" y="279" width="1" height="48" fill="#ff0000" />
<rect x="456" y="280" width="5" height="42" fill="#ff0000" />
<rect x="457" y="281" width="3" height="40" fill="#ff4500" />
<rect x="466" y="246" width="1" height="38" fill="#ff0000" />
<rect x="464" y="255" width="5" height="26" fill="#ff0000" />
<rect x="465" y="256" width="3" height="24" fill="#ff4500" />
<rect x="474" y="245" width="1" height="29" fill="#32cd32" />
<rect x="472" y="255" width="5" height="13" fill="#32cd32" />
<rect x="482" y="247" width="1" height="29" fill="#ff0000" />
<rect x="480" y="255" width="5" height="13" fill="#ff0000" />
<rect x="481" y="256" width="3" height="11" fill="#ff4500" />
<rect x="490" y="253" width="1" height="7" fill="#ff0000" />
<rect x="488" y="256" width="5" height="4" fill="#ff0000" />
<rect x="489" y="257" width="3" height="2" fill="#ff4500" />
<rect x="498" y="251" width="1" height="37" fill="#32cd32" />
<rect x="496" y="256" width="5" height="20" fill="#32cd32" />
<rect x="506" y="273" width="1" height="26" fill="#32cd32" />
<rect x="504" y="275" width="5" height="16" fill="#32cd32" />
<rect x="514" y="250" width="1" height="48" fill="#ff0000" />
<rect x="512" y="256" width="5" height="35" fill="#ff0000" />
<rect x="513" y="257" width="3" height="33" fill="#ff4500" />
<rect x="522" y="224" width="1" height="44" fill="#ff0000" />
<rect x="520" y="251" width="5" height="6" fill="#ff0000" />
<rect x="521" y="252" width="3" height="4" fill="#ff4500" />
<rect x="530" y="248" width="1" height="27" fill="#32cd32" />
<rect x="528" y="251" width="5" height="23" fill="#32cd32" />
<rect x="538" y="277" width="1" height="12" fill="#32cd32" />
<rect x="536" y="277" width="5" height="8" fill="#32cd32" />
<rect x="546" y="277" width="1" height="26" fill="#32cd32" />
<rect x="544" y="283" width="5" height="5" fill="#32cd32" />
<rect x="554" y="262" width="1" height="32" fill="#ff0000" />
<rect x="552" y="266" width="5" height="22" fill="#ff0000" />
<rect x="553" y="267" width="3" height="20" fill="#ff4500" />
<rect x="562" y="226" width="1" height="56" fill="#ff0000" />
<rect x="560" y="231" width="5" height="36" fill="#ff0000" />
<rect x="561" y="232" width="3" height="34" fill="#ff4500" />
<rect x="570" y="210" width="1" height="31" fill="#ff0000" />
<rect x="568" y="220" width="5" height="12" fill="#ff0000" />
<rect x="569" y="221" width="3" height="10" fill="#ff4500" />
<rect x="578" y="212" width="1" height="17" fill="#32cd32" />
<rect x="576" y="220" width="5" height="3" fill="#32cd32" />
<rect x="586" y="216" width="1" height="6" fill="#000" />
<rect x="584" y="221" width="5" height="1" fill="#000" />
<rect x="594" y="213" width="1" height="22" fill="#ff0000" />
<rect x="592" y="218" width="5" height="4" fill="#ff0000" />
<rect x="593" y="219" width="3" height="2" fill="#ff4500" />
<rect x="602" y="203" width="1" height="25" fill="#32cd32" />
<rect x="600" y="218" width="5" height="3" fill="#32cd32" />
<rect x="610" y="198" width="1" height="33" fill="#ff0000" />
<rect x="608" y="205" width="5" height="16" fill="#ff0000" />
<rect x="609" y="206" width="3" height="14" fill="#ff4500" />
<rect x="618" y="196" width="1" height="18" fill="#32cd32" />
<rect x="616" y="205" width="5" height="6" fill="#32cd32" />
<rect x="626" y="195" width="1" height="19" fill="#ff0000" />
<rect x="624" y="199" width="5" height="12" fill="#ff0000" />
<rect x="625" y="200" width="3" height="10" fill="#ff4500" />
<rect x="634" y="196" width="1" height="6" fill="#ff0000" />
<rect x="632" y="200" width="5" height="2" fill="#ff0000" />
<rect x="642" y="195" width="1" height="52" fill="#32cd32" />
<rect x="640" y="200" width="5" height="41" fill="#32cd32" />
<rect x="650" y="211" width="1" height="36" fill="#ff0000" />
<rect x="648" y="216" width="5" height="25" fill="#ff0000" />
<rect x="649" y="217" width="3" height="23" fill="#ff4500" />
<rect x="658" y="198" width="1" height="32" fill="#32cd32" />
<rect x="656" y="216" width="5" height="11" fill="#32cd32" />
<rect x="666" y="226" width="1" height="42" fill="#32cd32" />
<rect x="664" y="226" width="5" height="33" fill="#32cd32" />
<rect x="674" y="244" width="1" height="33" fill="#ff0000" />
<rect x="672" y="246" width="5" height="13" fill="#ff0000" />
<rect x="673" y="247" width="3" height="11" fill="#ff4500" />
<rect x="682" y="246" width="1" height="8" fill="#ff0000" />
<rect x="680" y="249" width="5" height="2" fill="#ff0000" />
<rect x="690" y="236" width="1" height="31" fill="#ff0000" />
<rect x="688" y="249" width="5" height="2" fill="#ff0000" />
<rect x="698" y="230" width="1" height="33" fill="#ff0000" />
<rect x="696" y="232" width="5" height="17" fill="#ff0000" />
<rect x="697" y="233" width="3" height="15" fill="#ff4500" />
<rect x="706" y="187" width="1" height="51" fill="#ff0000" />
<rect x="704" y="192" width="5" height="41" fill="#ff0000" />
<rect x="705" y="193" width="3" height="39" fill="#ff4500" />
<rect x="714" y="175" width="1" height="23" fill="#ff0000" />
<rect x="712" y="193" width="5" height="2" fill="#ff0000" />
<rect x="722" y="186" width="1" height="53" fill="#32cd32" />
<rect x="720" y="194" width="5" height="40" fill="#32cd32" />
<rect x="730" y="228" width="1" height="6" fill="#ff0000" />
<rect x="728" y="229" width="5" height="1" fill="#ff0000" />
<rect x="738" y="221" width="1" height="20" fill="#32cd32" />
<rect x="736" y="228" width="5" height="4" fill="#32cd32" />
<rect x="746" y="222" width="1" height="33" fill="#32cd32" />
<rect x="744" y="231" width="5" height="15" fill="#32cd32" />
<rect x="754" y="217" width="1" height="34" fill="#ff0000" />
<rect x="752" y="229" width="5" height="16" fill="#ff0000" />
<rect x="753" y="230" width="3" height="14" fill="#ff4500" />
<rect x="762" y="195" width="1" height="41" fill="#32cd32" />
<rect x="760" y="228" width="5" height="2" fill="#32cd32" />
<rect x="770" y="227" width="1" height="25" fill="#32cd32" />
<rect x="768" y="228" width="5" height="23" fill="#32cd32" />
<rect x="778" y="244" width="1" height="9" fill="#ff0000" />
<rect x="776" y="244" width="5" height="8" fill="#ff0000" />
<rect x="777" y="245" width="3" height="6" fill="#ff4500" />
<rect x="786" y="244" width="1" height="55" fill="#32cd32" />
<rect x="784" y="245" width="5" height="19" fill="#32cd32" />
<rect x="794" y="250" width="1" height="32" fill="#ff0000" />
<rect x="792" y="260" width="5" height="4" fill="#ff0000" />
<rect x="793" y="261" width="3" height="2" fill="#ff4500" />
<rect x="802" y="248" width="1" height="48" fill="#32cd32" />
<rect x="800" y="260" width="5" height="22" fill="#32cd32" />
<rect x="810" y="281" width="1" height="55" fill="#32cd32" />
<rect x="808" y="281" width="5" height="48" fill="#32cd32" />
<rect x="818" y="322" width="1" height="44" fill="#32cd32" />
<rect x="816" y="328" width="5" height="30" fill="#32cd32" />
<rect x="826" y="350" width="1" height="6" fill="#ff0000" />
<rect x="824" y="350" width="5" height="1" fill="#ff0000" />
<rect x="834" y="305" width="1" height="48" fill="#ff0000" />
<rect x="832" y="310" width="5" height="41" fill="#ff0000" />
<rect x="833" y="311" width="3" height="39" fill="#ff4500" />
<rect x="842" y="271" width="1" height="59" fill="#ff0000" />
<rect x="840" y="274" width="5" height="37" fill="#ff0000" />
<rect x="841" y="275" width="3" height="35" fill="#ff4500" />
<rect x="850" y="260" width="1" height="24" fill="#32cd32" />
<rect x="848" y="274" width="5" height="8" fill="#32cd32" />
<rect x="858" y="255" width="1" height="33" fill="#ff0000" />
<rect x="856" y="269" width="5" height="13" fill="#ff0000" />
<rect x="857" y="270" width="3" height="11" fill="#ff4500" />
<rect x="866" y="264" width="1" height="56" fill="#32cd32" />
<rect x="864" y="270" width="5" height="37" fill="#32cd32" />
<rect x="874" y="301" width="1" height="6" fill="#32cd32" />
<rect x="872" y="303" width="5" height="2" fill="#32cd32" />
<rect x="882" y="276" width="1" height="37" fill="#ff0000" />
<rect x="880" y="278" width="5" height="26" fill="#ff0000" />
<rect x="881" y="279" width="3" height="24" fill="#ff4500" />
<rect x="890" y="266" width="1" height="25" fill="#ff0000" />
<rect x="888" y="268" width="5" height="10" fill="#ff0000" />
<rect x="889" y="269" width="3" height="8" fill="#ff4500" />
<rect x="898" y="240" width="1" height="31" fill="#ff0000" />
<rect x="896" y="250" width="5" height="19" fill="#ff0000" />
<rect x="897" y="251" width="3" height="17" fill="#ff4500" />
<rect x="906" y="211" width="1" height="56" fill="#32cd32" />
<rect x="904" y="250" width="5" height="9" fill="#32cd32" />
</g>
</g>
<g shape-rendering="crispEdges">
<rect x="1149" y="74" width="2" height="1" fill="#000" />
<rect x="1149" y="107" width="2" height="1" fill="#000" />
<rect x="1149" y="140" width="2" height="1" fill="#000" />
<rect x="1149" y="173" width="2" height="1" fill="#000" />
<rect x="1149" y="206" width="2" height="1" fill="#000" />
<rect x="1149" y="239" width="2" height="1" fill="#000" />
<rect x="1149" y="272" width="2" height="1" fill="#000" />
<rect x="1149" y="305" width="2" height="1" fill="#000" />
<rect x="1149" y="338" width="2" height="1" fill="#000" />
</g>
<text x="1154.4" y="77.8" font-size="10.6" fill="#000" textLength="32.6" lengthAdjust="spacingAndGlyphs" stroke="#000" stroke-width="0.25" >0.74965</text>
<text x="1154.4" y="110.8" font-size="10.6" fill="#000" textLength="32.6" lengthAdjust="spacingAndGlyphs" stroke="#000" stroke-width="0.25" >0.74365</text>
<text x="1154.4" y="143.8" font-size="10.6" fill="#000" textLength="32.6" lengthAdjust="spacingAndGlyphs" stroke="#000" stroke-width="0.25" >0.73765</text>
<text x="1154.4" y="176.8" font-size="10.6" fill="#000" textLength="32.6" lengthAdjust="spacingAndGlyphs" stroke="#000" stroke-width="0.25" >0.73165</text>
<text x="1154.4" y="242.8" font-size="10.6" fill="#000" textLength="32.6" lengthAdjust="spacingAndGlyphs" stroke="#000" stroke-width="0.25" >0.71965</text>
<text x="1154.4" y="275.8" font-size="10.6" fill="#000" textLength="32.6" lengthAdjust="spacingAndGlyphs" stroke="#000" stroke-width="0.25" >0.71365</text>
<text x="1154.4" y="308.8" font-size="10.6" fill="#000" textLength="32.6" lengthAdjust="spacingAndGlyphs" stroke="#000" stroke-width="0.25" >0.70765</text>
<text x="1154.4" y="341.8" font-size="10.6" fill="#000" textLength="32.6" lengthAdjust="spacingAndGlyphs" stroke="#000" stroke-width="0.25" >0.70165</text>
<rect x="1150" y="38" width="40" height="11" fill="#ff0000" shape-rendering="crispEdges"/>
<text x="1154.4" y="46.8" font-size="10.6" fill="#fff" textLength="32.6" lengthAdjust="spacingAndGlyphs" stroke="#fff" stroke-width="0.25" >0.75512</text>
<rect x="1150" y="121" width="40" height="11" fill="#ff0000" shape-rendering="crispEdges"/>
<text x="1154.4" y="129.8" font-size="10.6" fill="#fff" textLength="32.6" lengthAdjust="spacingAndGlyphs" stroke="#fff" stroke-width="0.25" >0.74002</text>
<rect x="1150" y="204" width="40" height="11" fill="#ff0000" shape-rendering="crispEdges"/>
<text x="1154.4" y="212.8" font-size="10.6" fill="#fff" textLength="32.6" lengthAdjust="spacingAndGlyphs" stroke="#fff" stroke-width="0.25" >0.72508</text>
<rect x="1150" y="253" width="40" height="11" fill="#000" shape-rendering="crispEdges"/>
<text x="1154.4" y="261.8" font-size="10.6" fill="#fff" textLength="32.6" lengthAdjust="spacingAndGlyphs" stroke="#fff" stroke-width="0.25" >0.71614</text>
<rect x="1150" y="286" width="40" height="11" fill="#00ff00" shape-rendering="crispEdges"/>
<text x="1154.4" y="294.8" font-size="10.6" fill="#fff" textLength="32.6" lengthAdjust="spacingAndGlyphs" stroke="#fff" stroke-width="0.25" >0.71013</text>
<rect x="1150" y="365" width="40" height="11" fill="#0000ff" shape-rendering="crispEdges"/>
<text x="1154.4" y="373.8" font-size="10.6" fill="#fff" textLength="32.6" lengthAdjust="spacingAndGlyphs" stroke="#fff" stroke-width="0.25" >0.69574</text>
<text x="1152" y="387.2" font-size="10.6" fill="#000" textLength="37.6" lengthAdjust="spacingAndGlyphs" stroke="#000" stroke-width="0.25" >0.006201</text>
<text x="1152" y="406.4" font-size="10.6" fill="#000" textLength="17.5" lengthAdjust="spacingAndGlyphs" stroke="#000" stroke-width="0.25" >0.00</text>
<text x="1151.5" y="437.3" font-size="10.6" fill="#000" textLength="40" lengthAdjust="spacingAndGlyphs" stroke="#000" stroke-width="0.25" >-0.009197</text>
<rect x="1149" y="402" width="2" height="1" fill="#000" shape-rendering="crispEdges"/>
<rect x="1149" y="378" width="2" height="1" fill="#000" shape-rendering="crispEdges"/>
<text x="1152" y="453.8" font-size="10.6" fill="#000" textLength="14.8" lengthAdjust="spacingAndGlyphs" stroke="#000" stroke-width="0.25" >100</text>
<text x="1151.5" y="467.8" font-size="10.6" fill="#000" textLength="9.9" lengthAdjust="spacingAndGlyphs" stroke="#000" stroke-width="0.25" >70</text>
<text x="1151.3" y="492.7" font-size="10.6" fill="#000" textLength="9.9" lengthAdjust="spacingAndGlyphs" stroke="#000" stroke-width="0.25" >30</text>
<text x="1151.8" y="505.4" font-size="10.6" fill="#000" textLength="5.4" lengthAdjust="spacingAndGlyphs" stroke="#000" stroke-width="0.25" >0</text>
<rect x="1149" y="507" width="1" height="1" fill="#000" />
<polygon points="4.6,34.9 12.4,34.9 8.5,30.6" fill="#000"/>
<text x="18" y="36" font-size="10.6" fill="#000" textLength="68" lengthAdjust="spacingAndGlyphs" stroke="#000" stroke-width="0.25" >AUDUSD-,Daily</text>
<text x="92.1" y="36" font-size="10.6" fill="#000" textLength="140.7" lengthAdjust="spacingAndGlyphs" stroke="#000" stroke-width="0.25" >0.71760 0.72477 0.71468 0.71614</text>
<g shape-rendering="crispEdges">
<rect x="1" y="402" width="3" height="10" fill="#c0c0c0" />
<rect x="9" y="402" width="3" height="9" fill="#c0c0c0" />
<rect x="17" y="402" width="3" height="9" fill="#c0c0c0" />
<rect x="25" y="402" width="3" height="8" fill="#c0c0c0" />
<rect x="33" y="402" width="3" height="6" fill="#c0c0c0" />
<rect x="41" y="402" width="3" height="5" fill="#c0c0c0" />
<rect x="49" y="402" width="3" height="2" fill="#c0c0c0" />
<rect x="57" y="402" width="3" height="2" fill="#c0c0c0" />
<rect x="65" y="402" width="3" height="1" fill="#c0c0c0" />
<rect x="73" y="401" width="3" height="1" fill="#c0c0c0" />
<rect x="81" y="398" width="3" height="4" fill="#c0c0c0" />
<rect x="89" y="396" width="3" height="6" fill="#c0c0c0" />
<rect x="97" y="393" width="3" height="9" fill="#c0c0c0" />
<rect x="105" y="391" width="3" height="11" fill="#c0c0c0" />
<rect x="113" y="390" width="3" height="12" fill="#c0c0c0" />
<rect x="121" y="388" width="3" height="14" fill="#c0c0c0" />
<rect x="129" y="386" width="3" height="16" fill="#c0c0c0" />
<rect x="137" y="385" width="3" height="17" fill="#c0c0c0" />
<rect x="145" y="384" width="3" height="18" fill="#c0c0c0" />
<rect x="153" y="383" width="3" height="19" fill="#c0c0c0" />
<rect x="161" y="382" width="3" height="20" fill="#c0c0c0" />
<rect x="169" y="381" width="3" height="21" fill="#c0c0c0" />
<rect x="177" y="381" width="3" height="21" fill="#c0c0c0" />
<rect x="185" y="381" width="3" height="21" fill="#c0c0c0" />
<rect x="193" y="380" width="3" height="22" fill="#c0c0c0" />
<rect x="201" y="381" width="3" height="21" fill="#c0c0c0" />
<rect x="209" y="381" width="3" height="21" fill="#c0c0c0" />
<rect x="217" y="384" width="3" height="18" fill="#c0c0c0" />
<rect x="225" y="386" width="3" height="16" fill="#c0c0c0" />
<rect x="233" y="390" width="3" height="12" fill="#c0c0c0" />
<rect x="241" y="393" width="3" height="9" fill="#c0c0c0" />
<rect x="249" y="396" width="3" height="6" fill="#c0c0c0" />
<rect x="257" y="397" width="3" height="5" fill="#c0c0c0" />
<rect x="265" y="400" width="3" height="2" fill="#c0c0c0" />
<rect x="273" y="402" width="3" height="2" fill="#c0c0c0" />
<rect x="281" y="402" width="3" height="6" fill="#c0c0c0" />
<rect x="289" y="402" width="3" height="8" fill="#c0c0c0" />
<rect x="297" y="402" width="3" height="9" fill="#c0c0c0" />
<rect x="305" y="402" width="3" height="10" fill="#c0c0c0" />
<rect x="313" y="402" width="3" height="11" fill="#c0c0c0" />
<rect x="321" y="402" width="3" height="14" fill="#c0c0c0" />
<rect x="329" y="402" width="3" height="15" fill="#c0c0c0" />
<rect x="337" y="402" width="3" height="17" fill="#c0c0c0" />
<rect x="345" y="402" width="3" height="19" fill="#c0c0c0" />
<rect x="353" y="402" width="3" height="20" fill="#c0c0c0" />
<rect x="361" y="402" width="3" height="21" fill="#c0c0c0" />
<rect x="369" y="402" width="3" height="22" fill="#c0c0c0" />
<rect x="377" y="402" width="3" height="24" fill="#c0c0c0" />
<rect x="385" y="402" width="3" height="27" fill="#c0c0c0" />
<rect x="393" y="402" width="3" height="28" fill="#c0c0c0" />
<rect x="401" y="402" width="3" height="28" fill="#c0c0c0" />
<rect x="409" y="402" width="3" height="29" fill="#c0c0c0" />
<rect x="417" y="402" width="3" height="30" fill="#c0c0c0" />
<rect x="425" y="402" width="3" height="31" fill="#c0c0c0" />
<rect x="433" y="402" width="3" height="34" fill="#c0c0c0" />
<rect x="441" y="402" width="3" height="36" fill="#c0c0c0" />
<rect x="449" y="402" width="3" height="36" fill="#c0c0c0" />
<rect x="457" y="402" width="3" height="33" fill="#c0c0c0" />
<rect x="465" y="402" width="3" height="29" fill="#c0c0c0" />
<rect x="473" y="402" width="3" height="26" fill="#c0c0c0" />
<rect x="481" y="402" width="3" height="23" fill="#c0c0c0" />
<rect x="489" y="402" width="3" height="20" fill="#c0c0c0" />
<rect x="497" y="402" width="3" height="19" fill="#c0c0c0" />
<rect x="505" y="402" width="3" height="18" fill="#c0c0c0" />
<rect x="513" y="402" width="3" height="16" fill="#c0c0c0" />
<rect x="521" y="402" width="3" height="14" fill="#c0c0c0" />
<rect x="529" y="402" width="3" height="13" fill="#c0c0c0" />
<rect x="537" y="402" width="3" height="13" fill="#c0c0c0" />
<rect x="545" y="402" width="3" height="13" fill="#c0c0c0" />
<rect x="553" y="402" width="3" height="12" fill="#c0c0c0" />
<rect x="561" y="402" width="3" height="9" fill="#c0c0c0" />
<rect x="569" y="402" width="3" height="5" fill="#c0c0c0" />
<rect x="577" y="402" width="3" height="3" fill="#c0c0c0" />
<rect x="585" y="402" width="3" height="1" fill="#c0c0c0" />
<rect x="593" y="400" width="3" height="2" fill="#c0c0c0" />
<rect x="601" y="399" width="3" height="3" fill="#c0c0c0" />
<rect x="609" y="397" width="3" height="5" fill="#c0c0c0" />
<rect x="617" y="396" width="3" height="6" fill="#c0c0c0" />
<rect x="625" y="395" width="3" height="7" fill="#c0c0c0" />
<rect x="633" y="394" width="3" height="8" fill="#c0c0c0" />
<rect x="641" y="395" width="3" height="7" fill="#c0c0c0" />
<rect x="649" y="395" width="3" height="7" fill="#c0c0c0" />
<rect x="657" y="397" width="3" height="5" fill="#c0c0c0" />
<rect x="665" y="399" width="3" height="3" fill="#c0c0c0" />
<rect x="673" y="400" width="3" height="2" fill="#c0c0c0" />
<rect x="681" y="401" width="3" height="1" fill="#c0c0c0" />
<rect x="689" y="402" width="3" height="1" fill="#c0c0c0" />
<rect x="697" y="402" width="3" height="1" fill="#c0c0c0" />
<rect x="705" y="400" width="3" height="2" fill="#c0c0c0" />
<rect x="713" y="397" width="3" height="5" fill="#c0c0c0" />
<rect x="721" y="398" width="3" height="4" fill="#c0c0c0" />
<rect x="729" y="399" width="3" height="3" fill="#c0c0c0" />
<rect x="737" y="400" width="3" height="2" fill="#c0c0c0" />
<rect x="745" y="400" width="3" height="2" fill="#c0c0c0" />
<rect x="753" y="401" width="3" height="1" fill="#c0c0c0" />
<rect x="761" y="401" width="3" height="1" fill="#c0c0c0" />
<rect x="769" y="402" width="3" height="1" fill="#c0c0c0" />
<rect x="777" y="402" width="3" height="2" fill="#c0c0c0" />
<rect x="785" y="402" width="3" height="4" fill="#c0c0c0" />
<rect x="793" y="402" width="3" height="5" fill="#c0c0c0" />
<rect x="801" y="402" width="3" height="7" fill="#c0c0c0" />
<rect x="809" y="402" width="3" height="11" fill="#c0c0c0" />
<rect x="817" y="402" width="3" height="16" fill="#c0c0c0" />
<rect x="825" y="402" width="3" height="19" fill="#c0c0c0" />
<rect x="833" y="402" width="3" height="19" fill="#c0c0c0" />
<rect x="841" y="402" width="3" height="17" fill="#c0c0c0" />
<rect x="849" y="402" width="3" height="15" fill="#c0c0c0" />
<rect x="857" y="402" width="3" height="14" fill="#c0c0c0" />
<rect x="865" y="402" width="3" height="15" fill="#c0c0c0" />
<rect x="873" y="402" width="3" height="15" fill="#c0c0c0" />
<rect x="881" y="402" width="3" height="12" fill="#c0c0c0" />
<rect x="889" y="402" width="3" height="10" fill="#c0c0c0" />
<rect x="897" y="402" width="3" height="8" fill="#c0c0c0" />
<rect x="905" y="402" width="3" height="6" fill="#c0c0c0" />
</g>
<path d="M0.5,412v1M1.5,412v1M2.5,412v1M3.5,412v1M4.5,412v1M5.5,412v1M6.5,412v1M7.5,412v1M8.5,412v1M9.5,412v1M10.5,412v1M11.5,412v1M12.5,412v1M13.5,412v1M14.5,412v1M15.5,412v1M16.5,412v1M17.5,412v1M18.5,412v1M19.5,412v1M20.5,412v1M21.5,412v1M22.5,412v1M23.5,412v1M24.5,412v1M25.5,412v1M26.5,412v1M27.5,412v1M28.5,412v1M29.5,412v1M30.5,412v1M31.5,412v1M32.5,412v1M33.5,412v1M34.5,412v1M35.5,412v1M36.5,411v1M37.5,411v1M38.5,411v1M39.5,411v1M40.5,411v1M41.5,411v1M42.5,411v1M43.5,411v1M44.5,411v1M45.5,411v1M46.5,411v1M47.5,410v1M48.5,410v1M49.5,410v1M50.5,410v1M51.5,410v1M52.5,409v1M53.5,409v1M54.5,409v1M55.5,409v1M56.5,409v1M57.5,409v1M58.5,408v1M59.5,408v1M60.5,408v1M61.5,408v1M62.5,408v1M63.5,408v1M64.5,407v1M65.5,407v1M66.5,407v1M67.5,407v1M68.5,407v1M69.5,407v1M70.5,407v1M71.5,406v1M72.5,406v1M73.5,406v1M74.5,406v1M75.5,406v1M76.5,406v1M77.5,405v1M78.5,405v1M79.5,405v1M80.5,405v1M81.5,405v1M82.5,405v1M83.5,404v1M84.5,404v1M85.5,404v1M86.5,404v1M87.5,403v1M88.5,403v1M89.5,403v1M90.5,403v1M91.5,403v1M92.5,402v1M93.5,402v1M94.5,402v1M95.5,402v1M96.5,401v1M97.5,401v1M98.5,401v1M99.5,401v1M100.5,401v1M101.5,400v1M102.5,400v1M103.5,400v1M104.5,400v1M105.5,400v1M106.5,399v1M107.5,399v1M108.5,399v1M109.5,399v1M110.5,399v1M111.5,398v1M112.5,398v1M113.5,398v1M114.5,398v1M115.5,398v1M116.5,397v1M117.5,397v1M118.5,397v1M119.5,397v1M120.5,397v1M121.5,396v1M122.5,396v1M123.5,396v1M124.5,395v1M125.5,395v1M126.5,395v1M127.5,395v1M128.5,394v1M129.5,394v1M130.5,394v1M131.5,393v1M132.5,393v1M133.5,393v1M134.5,392v1M135.5,392v1M136.5,392v1M137.5,392v1M138.5,391v1M139.5,391v1M140.5,391v1M141.5,390v1M142.5,390v1M143.5,390v1M144.5,390v1M145.5,390v1M146.5,389v1M147.5,389v1M148.5,389v1M149.5,389v1M150.5,389v1M151.5,388v1M152.5,388v1M153.5,388v1M154.5,388v1M155.5,388v1M156.5,387v1M157.5,387v1M158.5,387v1M159.5,387v1M160.5,387v1M161.5,386v1M162.5,386v1M163.5,386v1M164.5,386v1M165.5,386v1M166.5,386v1M167.5,385v1M168.5,385v1M169.5,385v1M170.5,385v1M171.5,385v1M172.5,384v1M173.5,384v1M174.5,384v1M175.5,384v1M176.5,384v1M177.5,384v1M178.5,383v1M179.5,383v1M180.5,383v1M181.5,383v1M182.5,383v1M183.5,383v1M184.5,383v1M185.5,383v1M186.5,383v1M187.5,383v1M188.5,383v1M189.5,383v1M190.5,383v1M191.5,382v1M192.5,382v1M193.5,382v1M194.5,382v1M195.5,382v1M196.5,382v1M197.5,382v1M198.5,382v1M199.5,382v1M200.5,382v1M201.5,382v1M202.5,382v1M203.5,382v1M204.5,382v1M205.5,382v1M206.5,382v1M207.5,382v1M208.5,382v1M209.5,382v1M210.5,382v1M211.5,382v1M212.5,382v1M213.5,382v1M214.5,382v1M215.5,382v1M216.5,382v1M217.5,382v1M218.5,382v1M219.5,382v1M220.5,382v1M221.5,382v1M222.5,382v1M223.5,382v1M224.5,382v1M225.5,382v1M226.5,382v1M227.5,382v1M228.5,382v1M229.5,382v1M230.5,382v1M231.5,382v1M232.5,383v1M233.5,383v1M234.5,383v1M235.5,383v1M236.5,383v1M237.5,383v1M238.5,383v1M239.5,384v1M240.5,384v1M241.5,384v1M242.5,384v1M243.5,384v1M244.5,385v1M245.5,385v1M246.5,385v1M247.5,385v1M248.5,386v1M249.5,386v1M250.5,386v1M251.5,387v1M252.5,387v1M253.5,387v1M254.5,387v1M255.5,388v1M256.5,388v1M257.5,388v1M258.5,388v1M259.5,389v1M260.5,389v1M261.5,389v1M262.5,389v1M263.5,390v1M264.5,390v1M265.5,390v1M266.5,390v1M267.5,391v1M268.5,391v1M269.5,391v1M270.5,391v1M271.5,392v1M272.5,392v1M273.5,392v1M274.5,393v1M275.5,393v1M276.5,393v1M277.5,394v1M278.5,394v1M279.5,395v1M280.5,395v1M281.5,395v1M282.5,396v1M283.5,396v1M284.5,396v1M285.5,397v1M286.5,397v1M287.5,398v1M288.5,398v1M289.5,398v1M290.5,399v1M291.5,399v1M292.5,399v1M293.5,399v1M294.5,400v1M295.5,400v1M296.5,400v1M297.5,400v1M298.5,401v1M299.5,401v1M300.5,401v1M301.5,402v1M302.5,402v1M303.5,402v1M304.5,402v1M305.5,403v1M306.5,403v1M307.5,403v1M308.5,403v1M309.5,404v1M310.5,404v1M311.5,404v1M312.5,405v1M313.5,405v1M314.5,405v1M315.5,405v1M316.5,406v1M317.5,406v1M318.5,406v1M319.5,406v1M320.5,407v1M321.5,407v1M322.5,407v1M323.5,407v1M324.5,408v1M325.5,408v1M326.5,408v1M327.5,408v1M328.5,409v1M329.5,409v1M330.5,409v1M331.5,409v1M332.5,410v1M333.5,410v1M334.5,410v1M335.5,410v1M336.5,411v1M337.5,411v1M338.5,411v1M339.5,412v1M340.5,412v1M341.5,412v1M342.5,412v1M343.5,413v1M344.5,413v1M345.5,413v1M346.5,413v1M347.5,414v1M348.5,414v1M349.5,414v1M350.5,415v1M351.5,415v1M352.5,415v1M353.5,415v1M354.5,415v1M355.5,415v1M356.5,416v1M357.5,416v1M358.5,416v1M359.5,416v1M360.5,416v1M361.5,416v1M362.5,417v1M363.5,417v1M364.5,417v1M365.5,417v1M366.5,417v1M367.5,417v1M368.5,418v1M369.5,418v1M370.5,418v1M371.5,418v1M372.5,418v1M373.5,419v1M374.5,419v1M375.5,419v1M376.5,419v1M377.5,419v1M378.5,420v1M379.5,420v1M380.5,420v1M381.5,420v1M382.5,420v1M383.5,421v1M384.5,421v1M385.5,421v1M386.5,421v1M387.5,421v1M388.5,422v1M389.5,422v1M390.5,422v1M391.5,422v1M392.5,422v1M393.5,423v1M394.5,423v1M395.5,423v1M396.5,423v1M397.5,423v1M398.5,423v1M399.5,424v1M400.5,424v1M401.5,424v1M402.5,424v1M403.5,424v1M404.5,424v1M405.5,425v1M406.5,425v1M407.5,425v1M408.5,425v1M409.5,425v1M410.5,425v1M411.5,426v1M412.5,426v1M413.5,426v1M414.5,426v1M415.5,426v1M416.5,426v1M417.5,427v1M418.5,427v1M419.5,427v1M420.5,427v1M421.5,427v1M422.5,427v1M423.5,427v1M424.5,428v1M425.5,428v1M426.5,428v1M427.5,428v1M428.5,428v1M429.5,428v1M430.5,429v1M431.5,429v1M432.5,429v1M433.5,429v1M434.5,429v1M435.5,430v1M436.5,430v1M437.5,430v1M438.5,430v1M439.5,430v1M440.5,431v1M441.5,431v1M442.5,431v1M443.5,431v1M444.5,431v1M445.5,431v1M446.5,432v1M447.5,432v1M448.5,432v1M449.5,432v1M450.5,432v1M451.5,433v1M452.5,433v1M453.5,433v1M454.5,433v1M455.5,433v1M456.5,433v1M457.5,433v1M458.5,433v1M459.5,433v1M460.5,433v1M461.5,433v1M462.5,433v1M463.5,433v1M464.5,433v1M465.5,433v1M466.5,433v1M467.5,433v1M468.5,433v1M469.5,433v1M470.5,433v1M471.5,433v1M472.5,433v1M473.5,433v1M474.5,433v1M475.5,433v1M476.5,433v1M477.5,433v1M478.5,433v1M479.5,433v1M480.5,433v1M481.5,433v1M482.5,433v1M483.5,433v1M484.5,433v1M485.5,432v1M486.5,432v1M487.5,432v1M488.5,432v1M489.5,431v1M490.5,431v1M491.5,431v1M492.5,431v1M493.5,430v1M494.5,430v1M495.5,430v1M496.5,430v1M497.5,430v1M498.5,429v1M499.5,429v1M500.5,429v1M501.5,429v1M502.5,428v1M503.5,428v1M504.5,428v1M505.5,427v1M506.5,427v1M507.5,427v1M508.5,427v1M509.5,426v1M510.5,426v1M511.5,426v1M512.5,426v1M513.5,425v1M514.5,425v1M515.5,425v1M516.5,424v1M517.5,424v1M518.5,424v1M519.5,424v1M520.5,423v1M521.5,423v1M522.5,423v1M523.5,423v1M524.5,423v1M525.5,422v1M526.5,422v1M527.5,422v1M528.5,422v1M529.5,421v1M530.5,421v1M531.5,421v1M532.5,421v1M533.5,421v1M534.5,420v1M535.5,420v1M536.5,420v1M537.5,420v1M538.5,419v1M539.5,419v1M540.5,419v1M541.5,419v1M542.5,419v1M543.5,418v1M544.5,418v1M545.5,418v1M546.5,418v1M547.5,418v1M548.5,418v1M549.5,417v1M550.5,417v1M551.5,417v1M552.5,417v1M553.5,417v1M554.5,416v1M555.5,416v1M556.5,416v1M557.5,416v1M558.5,416v1M559.5,416v1M560.5,415v1M561.5,415v1M562.5,415v1M563.5,415v1M564.5,415v1M565.5,415v1M566.5,415v1M567.5,415v1M568.5,414v1M569.5,414v1M570.5,414v1M571.5,414v1M572.5,414v1M573.5,414v1M574.5,414v1M575.5,413v1M576.5,413v1M577.5,413v1M578.5,413v1M579.5,412v1M580.5,412v1M581.5,412v1M582.5,412v1M583.5,411v1M584.5,411v1M585.5,411v1M586.5,411v1M587.5,410v1M588.5,410v1M589.5,410v1M590.5,410v1M591.5,409v1M592.5,409v1M593.5,409v1M594.5,409v1M595.5,409v1M596.5,408v1M597.5,408v1M598.5,408v1M599.5,408v1M600.5,408v1M601.5,407v1M602.5,407v1M603.5,407v1M604.5,407v1M605.5,406v1M606.5,406v1M607.5,406v1M608.5,406v1M609.5,405v1M610.5,405v1M611.5,405v1M612.5,405v1M613.5,404v1M614.5,404v1M615.5,404v1M616.5,404v1M617.5,403v1M618.5,403v1M619.5,403v1M620.5,403v1M621.5,402v1M622.5,402v1M623.5,402v1M624.5,402v1M625.5,402v1M626.5,401v1M627.5,401v1M628.5,401v1M629.5,401v1M630.5,401v1M631.5,400v1M632.5,400v1M633.5,400v1M634.5,400v1M635.5,399v1M636.5,399v1M637.5,399v1M638.5,399v1M639.5,399v1M640.5,398v1M641.5,398v1M642.5,398v1M643.5,398v1M644.5,398v1M645.5,398v1M646.5,398v1M647.5,398v1M648.5,397v1M649.5,397v1M650.5,397v1M651.5,397v1M652.5,397v1M653.5,397v1M654.5,397v1M655.5,397v1M656.5,397v1M657.5,397v1M658.5,397v1M659.5,397v1M660.5,397v1M661.5,397v1M662.5,397v1M663.5,397v1M664.5,397v1M665.5,397v1M666.5,397v1M667.5,396v1M668.5,396v1M669.5,396v1M670.5,396v1M671.5,396v1M672.5,396v1M673.5,396v1M674.5,396v1M675.5,396v1M676.5,396v1M677.5,396v1M678.5,396v1M679.5,397v1M680.5,397v1M681.5,397v1M682.5,397v1M683.5,397v1M684.5,397v1M685.5,397v1M686.5,398v1M687.5,398v1M688.5,398v1M689.5,398v1M690.5,398v1M691.5,398v1M692.5,398v1M693.5,398v1M694.5,398v1M695.5,398v1M696.5,398v1M697.5,398v1M698.5,398v1M699.5,399v1M700.5,399v1M701.5,399v1M702.5,399v1M703.5,399v1M704.5,399v1M705.5,399v1M706.5,399v1M707.5,399v1M708.5,399v1M709.5,399v1M710.5,399v1M711.5,399v1M712.5,399v1M713.5,399v1M714.5,399v1M715.5,399v1M716.5,399v1M717.5,399v1M718.5,399v1M719.5,399v1M720.5,399v1M721.5,399v1M722.5,399v1M723.5,399v1M724.5,399v1M725.5,399v1M726.5,399v1M727.5,400v1M728.5,400v1M729.5,400v1M730.5,400v1M731.5,400v1M732.5,400v1M733.5,400v1M734.5,400v1M735.5,400v1M736.5,400v1M737.5,400v1M738.5,400v1M739.5,400v1M740.5,400v1M741.5,400v1M742.5,400v1M743.5,400v1M744.5,400v1M745.5,400v1M746.5,400v1M747.5,400v1M748.5,400v1M749.5,400v1M750.5,400v1M751.5,400v1M752.5,400v1M753.5,400v1M754.5,400v1M755.5,400v1M756.5,400v1M757.5,400v1M758.5,400v1M759.5,400v1M760.5,400v1M761.5,400v1M762.5,400v1M763.5,400v1M764.5,400v1M765.5,400v1M766.5,400v1M767.5,400v1M768.5,400v1M769.5,400v1M770.5,400v1M771.5,400v1M772.5,400v1M773.5,400v1M774.5,400v1M775.5,400v1M776.5,400v1M777.5,400v1M778.5,400v1M779.5,400v1M780.5,400v1M781.5,400v1M782.5,400v1M783.5,401v1M784.5,401v1M785.5,401v1M786.5,401v1M787.5,401v1M788.5,401v1M789.5,401v1M790.5,402v1M791.5,402v1M792.5,402v1M793.5,402v1M794.5,402v1M795.5,402v1M796.5,403v1M797.5,403v1M798.5,403v1M799.5,403v1M800.5,403v1M801.5,403v1M802.5,403v1M803.5,404v1M804.5,404v1M805.5,404v1M806.5,404v1M807.5,404v1M808.5,404v1M809.5,405v1M810.5,405v1M811.5,405v1M812.5,405v1M813.5,405v1M814.5,405v1M815.5,406v1M816.5,406v1M817.5,406v1M818.5,406v1M819.5,407v1M820.5,407v1M821.5,407v1M822.5,407v1M823.5,408v1M824.5,408v1M825.5,408v1M826.5,408v1M827.5,409v1M828.5,409v1M829.5,409v1M830.5,409v1M831.5,410v1M832.5,410v1M833.5,410v1M834.5,410v1M835.5,411v1M836.5,411v1M837.5,411v1M838.5,411v1M839.5,412v1M840.5,412v1M841.5,412v1M842.5,412v1M843.5,413v1M844.5,413v1M845.5,413v1M846.5,413v1M847.5,413v1M848.5,414v1M849.5,414v1M850.5,414v1M851.5,414v1M852.5,415v1M853.5,415v1M854.5,415v1M855.5,415v1M856.5,415v1M857.5,415v1M858.5,416v1M859.5,416v1M860.5,416v1M861.5,416v1M862.5,416v1M863.5,416v1M864.5,416v1M865.5,416v1M866.5,416v1M867.5,416v1M868.5,416v1M869.5,416v1M870.5,416v1M871.5,416v1M872.5,416v1M873.5,416v1M874.5,416v1M875.5,416v1M876.5,416v1M877.5,416v1M878.5,416v1M879.5,417v1M880.5,417v1M881.5,417v1M882.5,417v1M883.5,417v1M884.5,417v1M885.5,417v1M886.5,417v1M887.5,417v1M888.5,416v1M889.5,416v1M890.5,416v1M891.5,416v1M892.5,416v1M893.5,416v1M894.5,416v1M895.5,416v1M896.5,416v1M897.5,415v1M898.5,415v1M899.5,415v1M900.5,415v1M901.5,415v1M902.5,414v1M903.5,414v1M904.5,414v1M905.5,414v1M906.5,413v1" fill="none" stroke="#ff0000" stroke-width="1" shape-rendering="crispEdges"/>
<text x="6" y="389" font-size="10.6" fill="#000" textLength="153.6" lengthAdjust="spacingAndGlyphs" stroke="#000" stroke-width="0.25" >MACD(12,26,9) -0.001090 -0.002657</text>
<line x1="2" x2="1148" y1="463.5" y2="463.5" stroke="#c0c0c0" stroke-width="1" stroke-dasharray="3.5 2.5" shape-rendering="crispEdges"/>
<line x1="2" x2="1148" y1="488.5" y2="488.5" stroke="#c0c0c0" stroke-width="1" stroke-dasharray="3.5 2.5" shape-rendering="crispEdges"/>
<path d="M2.5,477v1M3.5,477v1M4.5,477v1M5.5,477v1M6.5,477v1M7.5,477v1M8.5,477v1M9.5,477v1M10.5,477v1M11.5,476v1M12.5,476v1M13.5,476v1M14.5,476v1M15.5,476v1M16.5,476v1M17.5,476v1M18.5,476v1M19.5,476v1M20.5,476v1M21.5,476v1M22.5,476v1M23.5,476v1M24.5,476v1M25.5,476v1M26.5,476v1M27.5,476v1M28.5,476v1M29.5,476v1M30.5,476v1M31.5,476v1M32.5,476v1M33.5,476v1M34.5,477v1M35.5,476v1M36.5,476v1M37.5,475v1M38.5,475v1M39.5,475v1M40.5,474v1M41.5,474v1M42.5,474v1M43.5,474v1M44.5,474v1M45.5,474v1M46.5,474v1M47.5,473v1M48.5,473v1M49.5,473v1M50.5,473v1M51.5,474v1M52.5,474v1M53.5,474v1M54.5,475v1M55.5,475v1M56.5,475v1M57.5,475v1M58.5,476v1M59.5,475v1M60.5,474v1M61.5,474v1M62.5,473v1M63.5,472v1M64.5,472v1M65.5,471v1M66.5,470v1M67.5,471v1M68.5,471v1M69.5,471v1M70.5,471v1M71.5,472v1M72.5,472v1M73.5,472v1M74.5,472v1M75.5,472v1M76.5,471v1M77.5,471v1M78.5,471v1M79.5,470v1M80.5,470v1M81.5,469v1M82.5,469v1M83.5,468v1M84.5,468v1M85.5,468v1M86.5,468v1M87.5,467v1M88.5,467v1M89.5,467v1M90.5,466v1M91.5,466v1M92.5,466v1M93.5,466v1M94.5,466v1M95.5,466v1M96.5,466v1M97.5,466v1M98.5,466v1M99.5,466v1M100.5,466v1M101.5,466v1M102.5,466v1M103.5,466v1M104.5,466v1M105.5,466v1M106.5,465v1M107.5,466v1M108.5,466v1M109.5,466v1M110.5,467v1M111.5,467v1M112.5,467v1M113.5,467v1M114.5,468v1M115.5,467v1M116.5,467v1M117.5,466v1M118.5,466v1M119.5,465v1M120.5,465v1M121.5,464v1M122.5,464v1M123.5,463v1M124.5,463v1M125.5,463v1M126.5,462v1M127.5,462v1M128.5,462v1M129.5,461v1M130.5,461v1M131.5,462v1M132.5,463v1M133.5,463v1M134.5,464v1M135.5,465v1M136.5,466v1M137.5,467v1M138.5,467v1M139.5,467v1M140.5,467v1M141.5,467v1M142.5,467v1M143.5,467v1M144.5,467v1M145.5,467v1M146.5,467v1M147.5,467v1M148.5,467v1M149.5,467v1M150.5,467v1M151.5,467v1M152.5,466v1M153.5,466v1M154.5,466v1M155.5,466v1M156.5,466v1M157.5,466v1M158.5,466v1M159.5,466v1M160.5,466v1M161.5,465v1M162.5,465v1M163.5,465v1M164.5,465v1M165.5,465v1M166.5,465v1M167.5,465v1M168.5,465v1M169.5,465v1M170.5,464v1M171.5,465v1M172.5,465v1M173.5,465v1M174.5,465v1M175.5,465v1M176.5,465v1M177.5,465v1M178.5,465v1M179.5,465v1M180.5,465v1M181.5,465v1M182.5,464v1M183.5,464v1M184.5,464v1M185.5,464v1M186.5,463v1M187.5,464v1M188.5,464v1M189.5,464v1M190.5,464v1M191.5,464v1M192.5,464v1M193.5,464v1M194.5,465v1M195.5,465v1M196.5,465v1M197.5,465v1M198.5,465v1M199.5,465v1M200.5,465v1M201.5,465v1M202.5,465v1M203.5,465v1M204.5,465v1M205.5,465v1M206.5,465v1M207.5,465v1M208.5,465v1M209.5,465v1M210.5,465v2M211.5,467v1M212.5,468v1M213.5,469v2M214.5,471v1M215.5,472v1M216.5,473v1M217.5,474v2M218.5,476v1M219.5,475v1M220.5,475v1M221.5,474v1M222.5,474v1M223.5,473v1M224.5,473v1M225.5,472v1M226.5,472v1M227.5,473v1M228.5,474v1M229.5,474v1M230.5,475v1M231.5,476v1M232.5,477v1M233.5,477v1M234.5,478v1M235.5,478v1M236.5,478v1M237.5,479v1M238.5,479v1M239.5,479v1M240.5,479v1M241.5,479v1M242.5,479v1M243.5,479v1M244.5,479v1M245.5,479v1M246.5,479v1M247.5,479v1M248.5,479v1M249.5,479v1M250.5,479v1M251.5,479v1M252.5,479v1M253.5,479v1M254.5,478v1M255.5,478v1M256.5,478v1M257.5,477v1M258.5,477v1M259.5,477v1M260.5,478v1M261.5,478v1M262.5,479v1M263.5,479v1M264.5,480v1M265.5,480v1M266.5,480v1M267.5,481v1M268.5,481v1M269.5,482v1M270.5,482v1M271.5,482v1M272.5,483v1M273.5,483v1M274.5,483v1M275.5,484v1M276.5,484v1M277.5,485v1M278.5,485v1M279.5,485v1M280.5,486v1M281.5,486v1M282.5,486v1M283.5,486v1M284.5,485v1M285.5,485v1M286.5,485v1M287.5,484v1M288.5,484v1M289.5,483v1M290.5,483v1M291.5,482v1M292.5,482v1M293.5,482v1M294.5,482v1M295.5,482v1M296.5,482v1M297.5,482v1M298.5,481v1M299.5,481v1M300.5,481v1M301.5,481v1M302.5,481v1M303.5,481v1M304.5,481v1M305.5,481v1M306.5,480v1M307.5,481v1M308.5,481v1M309.5,482v1M310.5,482v1M311.5,482v1M312.5,483v1M313.5,483v1M314.5,483v1M315.5,484v1M316.5,484v1M317.5,484v1M318.5,485v1M319.5,485v1M320.5,485v1M321.5,485v1M322.5,486v1M323.5,485v1M324.5,485v1M325.5,485v1M326.5,485v1M327.5,485v1M328.5,485v1M329.5,485v1M330.5,484v1M331.5,485v1M332.5,485v1M333.5,486v1M334.5,486v1M335.5,486v1M336.5,487v1M337.5,487v1M338.5,487v1M339.5,487v1M340.5,487v1M341.5,487v1M342.5,487v1M343.5,487v1M344.5,487v1M345.5,487v1M346.5,487v1M347.5,487v1M348.5,487v1M349.5,487v1M350.5,487v1M351.5,487v1M352.5,487v1M353.5,487v1M354.5,487v1M355.5,488v1M356.5,488v1M357.5,488v1M358.5,488v1M359.5,488v1M360.5,488v1M361.5,488v1M362.5,488v1M363.5,489v1M364.5,489v1M365.5,489v1M366.5,489v1M367.5,489v1M368.5,489v1M369.5,489v1M370.5,490v1M371.5,490v1M372.5,490v1M373.5,490v1M374.5,491v1M375.5,491v1M376.5,491v1M377.5,491v1M378.5,492v1M379.5,492v1M380.5,492v1M381.5,492v1M382.5,493v1M383.5,493v1M384.5,493v1M385.5,493v1M386.5,494v1M387.5,493v1M388.5,493v1M389.5,492v1M390.5,492v1M391.5,492v1M392.5,491v1M393.5,491v1M394.5,491v1M395.5,490v1M396.5,490v1M397.5,490v1M398.5,490v1M399.5,490v1M400.5,489v1M401.5,489v1M402.5,489v1M403.5,489v1M404.5,489v1M405.5,489v1M406.5,490v1M407.5,490v1M408.5,490v1M409.5,490v1M410.5,490v1M411.5,490v1M412.5,490v1M413.5,491v1M414.5,491v1M415.5,491v1M416.5,491v1M417.5,491v1M418.5,491v1M419.5,492v1M420.5,492v1M421.5,492v1M422.5,492v1M423.5,492v1M424.5,492v1M425.5,492v1M426.5,492v1M427.5,493v1M428.5,493v1M429.5,494v1M430.5,494v1M431.5,495v1M432.5,495v1M433.5,496v1M434.5,496v1M435.5,496v1M436.5,496v1M437.5,495v1M438.5,495v1M439.5,494v1M440.5,494v1M441.5,493v1M442.5,493v1M443.5,493v1M444.5,492v1M445.5,492v1M446.5,491v1M447.5,491v1M448.5,490v1M449.5,490v1M450.5,489v1M451.5,488v1M452.5,487v1M453.5,486v1M454.5,485v1M455.5,484v1M456.5,483v1M457.5,482v1M458.5,481v1M459.5,480v1M460.5,480v1M461.5,479v1M462.5,479v1M463.5,479v1M464.5,478v1M465.5,478v1M466.5,477v1M467.5,478v1M468.5,478v1M469.5,478v1M470.5,478v1M471.5,479v1M472.5,479v1M473.5,479v1M474.5,479v1M475.5,479v1M476.5,479v1M477.5,479v1M478.5,478v1M479.5,478v1M480.5,478v1M481.5,478v1M482.5,477v1M483.5,477v1M484.5,477v1M485.5,477v1M486.5,477v1M487.5,477v1M488.5,477v1M489.5,477v1M490.5,477v1M491.5,478v1M492.5,478v1M493.5,479v1M494.5,479v1M495.5,479v1M496.5,480v1M497.5,480v1M498.5,480v1M499.5,481v1M500.5,481v1M501.5,481v1M502.5,481v1M503.5,482v1M504.5,482v1M505.5,482v1M506.5,482v1M507.5,482v1M508.5,481v1M509.5,480v1M510.5,480v1M511.5,479v1M512.5,478v1M513.5,477v1M514.5,477v1M515.5,477v1M516.5,477v1M517.5,477v1M518.5,477v1M519.5,477v1M520.5,477v1M521.5,477v1M522.5,477v1M523.5,477v1M524.5,477v1M525.5,478v1M526.5,478v1M527.5,478v1M528.5,479v1M529.5,479v1M530.5,479v1M531.5,480v1M532.5,480v1M533.5,480v1M534.5,480v1M535.5,480v1M536.5,480v1M537.5,480v1M538.5,480v1M539.5,480v1M540.5,480v1M541.5,480v1M542.5,480v1M543.5,480v1M544.5,480v1M545.5,480v1M546.5,480v1M547.5,480v1M548.5,480v1M549.5,479v1M550.5,479v1M551.5,479v1M552.5,478v1M553.5,478v1M554.5,477v1M555.5,477v1M556.5,476v1M557.5,476v1M558.5,475v1M559.5,474v1M560.5,474v1M561.5,473v1M562.5,472v1M563.5,472v1M564.5,472v1M565.5,472v1M566.5,472v1M567.5,472v1M568.5,472v1M569.5,472v1M570.5,471v1M571.5,471v1M572.5,471v1M573.5,471v1M574.5,471v1M575.5,471v1M576.5,471v1M577.5,471v1M578.5,471v1M579.5,471v1M580.5,471v1M581.5,471v1M582.5,471v1M583.5,471v1M584.5,471v1M585.5,471v1M586.5,471v1M587.5,471v1M588.5,471v1M589.5,471v1M590.5,471v1M591.5,471v1M592.5,471v1M593.5,471v1M594.5,470v1M595.5,471v1M596.5,471v1M597.5,471v1M598.5,471v1M599.5,471v1M600.5,471v1M601.5,471v1M602.5,471v1M603.5,471v1M604.5,471v1M605.5,471v1M606.5,471v1M607.5,470v1M608.5,470v1M609.5,470v1M610.5,470v1M611.5,470v1M612.5,470v1M613.5,470v1M614.5,470v1M615.5,470v1M616.5,470v1M617.5,470v1M618.5,470v1M619.5,470v1M620.5,470v1M621.5,470v1M622.5,470v1M623.5,469v1M624.5,469v1M625.5,469v1M626.5,469v1M627.5,469v1M628.5,469v1M629.5,469v1M630.5,469v1M631.5,468v1M632.5,468v1M633.5,468v1M634.5,468v1M635.5,469v1M636.5,470v1M637.5,471v1M638.5,472v1M639.5,473v1M640.5,474v1M641.5,475v1M642.5,476v1M643.5,476v1M644.5,476v1M645.5,475v1M646.5,475v1M647.5,475v1M648.5,474v1M649.5,474v1M650.5,473v1M651.5,474v1M652.5,474v1M653.5,474v1M654.5,474v1M655.5,474v1M656.5,474v1M657.5,474v1M658.5,475v1M659.5,475v1M660.5,476v1M661.5,476v1M662.5,477v1M663.5,478v1M664.5,478v1M665.5,479v1M666.5,479v1M667.5,479v1M668.5,479v1M669.5,479v1M670.5,478v1M671.5,478v1M672.5,478v1M673.5,478v1M674.5,477v1M675.5,478v1M676.5,478v1M677.5,478v1M678.5,478v1M679.5,478v1M680.5,478v1M681.5,478v1M682.5,478v1M683.5,478v1M684.5,478v1M685.5,478v1M686.5,478v1M687.5,478v1M688.5,478v1M689.5,478v1M690.5,478v1M691.5,478v1M692.5,478v1M693.5,477v1M694.5,477v1M695.5,477v1M696.5,476v1M697.5,476v1M698.5,476v1M699.5,475v1M700.5,474v1M701.5,473v1M702.5,473v1M703.5,472v1M704.5,471v1M705.5,470v1M706.5,470v1M707.5,470v1M708.5,470v1M709.5,470v1M710.5,470v1M711.5,469v1M712.5,469v1M713.5,469v1M714.5,469v1M715.5,470v1M716.5,471v1M717.5,472v1M718.5,473v1M719.5,474v1M720.5,475v1M721.5,476v1M722.5,476v1M723.5,476v1M724.5,476v1M725.5,476v1M726.5,476v1M727.5,476v1M728.5,476v1M729.5,476v1M730.5,475v1M731.5,476v1M732.5,476v1M733.5,476v1M734.5,476v1M735.5,476v1M736.5,476v1M737.5,476v1M738.5,476v1M739.5,477v1M740.5,477v1M741.5,477v1M742.5,477v1M743.5,478v1M744.5,478v1M745.5,478v1M746.5,478v1M747.5,478v1M748.5,478v1M749.5,477v1M750.5,477v1M751.5,477v1M752.5,476v1M753.5,476v1M754.5,475v1M755.5,475v1M756.5,475v1M757.5,475v1M758.5,475v1M759.5,475v1M760.5,475v1M761.5,475v1M762.5,475v1M763.5,476v1M764.5,476v1M765.5,477v1M766.5,477v1M767.5,478v1M768.5,478v1M769.5,479v1M770.5,479v1M771.5,479v1M772.5,479v1M773.5,479v1M774.5,478v1M775.5,478v1M776.5,478v1M777.5,478v1M778.5,477v1M779.5,478v1M780.5,478v1M781.5,479v1M782.5,479v1M783.5,479v1M784.5,480v1M785.5,480v1M786.5,480v1M787.5,480v1M788.5,480v1M789.5,480v1M790.5,480v1M791.5,480v1M792.5,480v1M793.5,480v1M794.5,480v1M795.5,481v1M796.5,481v1M797.5,482v1M798.5,482v1M799.5,482v1M800.5,483v1M801.5,483v1M802.5,483v1M803.5,484v1M804.5,485v1M805.5,485v1M806.5,486v1M807.5,486v1M808.5,487v1M809.5,487v1M810.5,488v1M811.5,488v1M812.5,489v1M813.5,489v1M814.5,489v1M815.5,490v1M816.5,490v1M817.5,490v1M818.5,490v1M819.5,490v1M820.5,490v1M821.5,490v1M822.5,490v1M823.5,490v1M824.5,490v1M825.5,490v1M826.5,489v1M827.5,488v1M828.5,487v1M829.5,486v1M830.5,486v1M831.5,485v1M832.5,484v1M833.5,483v1M834.5,482v1M835.5,481v1M836.5,481v1M837.5,480v1M838.5,480v1M839.5,479v1M840.5,478v1M841.5,478v1M842.5,477v1M843.5,477v1M844.5,477v1M845.5,477v1M846.5,477v1M847.5,477v1M848.5,477v1M849.5,477v1M850.5,477v1M851.5,477v1M852.5,477v1M853.5,477v1M854.5,477v1M855.5,477v1M856.5,477v1M857.5,477v1M858.5,476v1M859.5,477v1M860.5,477v1M861.5,478v1M862.5,478v1M863.5,479v1M864.5,479v1M865.5,480v1M866.5,480v1M867.5,480v1M868.5,480v1M869.5,480v1M870.5,480v1M871.5,480v1M872.5,480v1M873.5,480v1M874.5,480v1M875.5,480v1M876.5,479v1M877.5,479v1M878.5,478v1M879.5,478v1M880.5,477v1M881.5,477v1M882.5,476v1M883.5,476v1M884.5,476v1M885.5,476v1M886.5,476v1M887.5,476v1M888.5,476v1M889.5,476v1M890.5,475v1M891.5,475v1M892.5,475v1M893.5,475v1M894.5,474v1M895.5,474v1M896.5,474v1M897.5,474v1M898.5,473v1M899.5,474v1M900.5,474v1M901.5,474v1M902.5,474v1M903.5,474v1M904.5,474v1M905.5,474v1M906.5,474v1" fill="none" stroke="#1e90ff" stroke-width="1" shape-rendering="crispEdges"/>
<text x="6" y="455" font-size="10.6" fill="#000" textLength="68" lengthAdjust="spacingAndGlyphs" stroke="#000" stroke-width="0.25" >RSI(14) 52.5637</text>
<g shape-rendering="crispEdges">
<rect x="2" y="509" width="1" height="3" fill="#000" />
<rect x="66" y="509" width="1" height="3" fill="#000" />
<rect x="130" y="509" width="1" height="3" fill="#000" />
<rect x="194" y="509" width="1" height="3" fill="#000" />
<rect x="258" y="509" width="1" height="3" fill="#000" />
<rect x="322" y="509" width="1" height="3" fill="#000" />
<rect x="386" y="509" width="1" height="3" fill="#000" />
<rect x="450" y="509" width="1" height="3" fill="#000" />
<rect x="514" y="509" width="1" height="3" fill="#000" />
<rect x="578" y="509" width="1" height="3" fill="#000" />
<rect x="642" y="509" width="1" height="3" fill="#000" />
<rect x="706" y="509" width="1" height="3" fill="#000" />
<rect x="770" y="509" width="1" height="3" fill="#000" />
<rect x="834" y="509" width="1" height="3" fill="#000" />
<rect x="898" y="509" width="1" height="3" fill="#000" />
</g>
<text x="1.4" y="521" font-size="10.6" fill="#000" textLength="44.6" lengthAdjust="spacingAndGlyphs" stroke="#000" stroke-width="0.25" >1 Oct 2021</text>
<text x="65.4" y="521" font-size="10.6" fill="#000" textLength="49.8" lengthAdjust="spacingAndGlyphs" stroke="#000" stroke-width="0.25" >11 Oct 2021</text>
<text x="129.4" y="521" font-size="10.6" fill="#000" textLength="49.6" lengthAdjust="spacingAndGlyphs" stroke="#000" stroke-width="0.25" >20 Oct 2021</text>
<text x="193.4" y="521" font-size="10.6" fill="#000" textLength="49.8" lengthAdjust="spacingAndGlyphs" stroke="#000" stroke-width="0.25" >29 Oct 2021</text>
<text x="257.4" y="521" font-size="10.6" fill="#000" textLength="47.8" lengthAdjust="spacingAndGlyphs" stroke="#000" stroke-width="0.25" >8 Nov 2021</text>
<text x="321.4" y="521" font-size="10.6" fill="#000" textLength="52.2" lengthAdjust="spacingAndGlyphs" stroke="#000" stroke-width="0.25" >17 Nov 2021</text>
<text x="385.4" y="521" font-size="10.6" fill="#000" textLength="52" lengthAdjust="spacingAndGlyphs" stroke="#000" stroke-width="0.25" >26 Nov 2021</text>
<text x="449.4" y="521" font-size="10.6" fill="#000" textLength="45.5" lengthAdjust="spacingAndGlyphs" stroke="#000" stroke-width="0.25" >6 Dec 2021</text>
<text x="513.4" y="521" font-size="10.6" fill="#000" textLength="50.2" lengthAdjust="spacingAndGlyphs" stroke="#000" stroke-width="0.25" >15 Dec 2021</text>
<text x="577.4" y="521" font-size="10.6" fill="#000" textLength="50.4" lengthAdjust="spacingAndGlyphs" stroke="#000" stroke-width="0.25" >24 Dec 2021</text>
<text x="641.4" y="521" font-size="10.6" fill="#000" textLength="43.5" lengthAdjust="spacingAndGlyphs" stroke="#000" stroke-width="0.25" >3 Jan 2022</text>
<text x="705.4" y="521" font-size="10.6" fill="#000" textLength="48.9" lengthAdjust="spacingAndGlyphs" stroke="#000" stroke-width="0.25" >12 Jan 2022</text>
<text x="769.4" y="521" font-size="10.6" fill="#000" textLength="49.1" lengthAdjust="spacingAndGlyphs" stroke="#000" stroke-width="0.25" >21 Jan 2022</text>
<text x="833.4" y="521" font-size="10.6" fill="#000" textLength="49.4" lengthAdjust="spacingAndGlyphs" stroke="#000" stroke-width="0.25" >31 Jan 2022</text>
<text x="897.4" y="521" font-size="10.6" fill="#000" textLength="46.3" lengthAdjust="spacingAndGlyphs" stroke="#000" stroke-width="0.25" >9 Feb 2022</text>
<defs>
<linearGradient id="gb" x1="0" y1="0" x2="0" y2="1"><stop offset="0" stop-color="#5656f2"/><stop offset="1" stop-color="#3a3ae4"/></linearGradient>
<linearGradient id="gp" x1="0" y1="0" x2="0" y2="1"><stop offset="0" stop-color="#3030e0"/><stop offset="1" stop-color="#0000a4"/></linearGradient>
<linearGradient id="gs" x1="0" y1="0" x2="0" y2="1"><stop offset="0" stop-color="#f4f4f4"/><stop offset="0.5" stop-color="#dcdcdc"/><stop offset="1" stop-color="#cfcfcf"/></linearGradient>
<linearGradient id="gp2" gradientUnits="userSpaceOnUse" x1="0" y1="68" x2="0" y2="101"><stop offset="0" stop-color="#3030e0"/><stop offset="1" stop-color="#0000a4"/></linearGradient>
</defs>
<rect x="5" y="44" width="219" height="57" fill="#ffffff" />
<rect x="5" y="44" width="52" height="24" fill="url(#gb)" />
<rect x="172" y="44" width="52" height="24" fill="url(#gb)" />
<rect x="5" y="68" width="109" height="33" fill="url(#gp)" />
<rect x="116" y="68" width="108" height="33" fill="url(#gp)" />
<g fill="none" stroke="#0808a4" stroke-width="1">
<path d="M5.5,100.5V44.5H56.5V68"/><path d="M172.5,68V44.5H223.5V100.5"/><path d="M5.5,100.5H113.5V68.5H57"/><path d="M223.5,100.5H116.5V68.5H172"/>
</g>
<rect x="9" y="67.5" width="44" height="1" fill="#8080f2" />
<rect x="176" y="67.5" width="44" height="1" fill="#8080f2" />
<rect x="59.5" y="44.5" width="111" height="21" fill="#ffffff" stroke="#b4b4b4" stroke-width="1"/>
<rect x="60.5" y="45.5" width="19.5" height="19.5" fill="url(#gs)" stroke="#c4c4c4" stroke-width="0.8"/>
<rect x="149.5" y="45.5" width="19.5" height="19.5" fill="url(#gs)" stroke="#c4c4c4" stroke-width="0.8"/>
<polygon points="67.3,53.2 72.3,53.2 69.8,56.2" fill="#4a5ea8"/>
<polygon points="156.5,56 162,56 159.2,52.8" fill="#4a5ea8"/>
<text x="121.3" y="58.7" font-size="12" fill="#000" textLength="23.4" lengthAdjust="spacingAndGlyphs" >3.00</text>
<text x="17.6" y="59.9" font-size="12" fill="#fff" textLength="25.4" lengthAdjust="spacingAndGlyphs" >SELL</text>
<text x="185.7" y="59.9" font-size="12" fill="#fff" textLength="22.5" lengthAdjust="spacingAndGlyphs" >BUY</text>
<text x="25.2" y="95.8" font-size="12" fill="#fff" textLength="23.8" lengthAdjust="spacingAndGlyphs" font-weight="bold" >0.71</text>
<text x="135" y="95.8" font-size="12" fill="#fff" textLength="23.8" lengthAdjust="spacingAndGlyphs" font-weight="bold" >0.71</text>
<text x="52.2" y="95.8" font-size="35.3" fill="#fff" textLength="36.4" lengthAdjust="spacingAndGlyphs" stroke="url(#gp2)" stroke-width="0.9">61</text>
<text x="163.2" y="95.8" font-size="35.3" fill="#fff" textLength="36.4" lengthAdjust="spacingAndGlyphs" stroke="url(#gp2)" stroke-width="0.9">63</text>
<text x="92" y="80" font-size="10.5" fill="#fff" textLength="7" lengthAdjust="spacingAndGlyphs" font-weight="bold" stroke="#fff" stroke-width="0.25" >4</text>
<text x="203.5" y="80" font-size="10.5" fill="#fff" textLength="7" lengthAdjust="spacingAndGlyphs" font-weight="bold" stroke="#fff" stroke-width="0.25" >8</text>
<rect x="0" y="529" width="1190" height="24" fill="#f0f0f0" />
<rect x="0" y="529" width="1190" height="2" fill="#e8e8e8" />
<rect x="0" y="531" width="1190" height="1" fill="#000" />
<rect x="0" y="550" width="1190" height="3" fill="#f9f9f9" />
<rect x="0" y="552" width="1190" height="1" fill="#efefef" />
<rect x="212" y="531" width="106" height="18" fill="#ffffff" />
<rect x="211" y="531" width="1" height="19" fill="#000" />
<rect x="318" y="531" width="1" height="19" fill="#000" />
<rect x="211" y="549" width="108" height="1" fill="#000" />
<text x="14" y="546" font-size="13" fill="#6e6e6e" textLength="78" lengthAdjust="spacingAndGlyphs" >USDX,Weekly</text>
<text x="114" y="546" font-size="13" fill="#6e6e6e" textLength="85" lengthAdjust="spacingAndGlyphs" >EURUSD-,Daily</text>
<text x="221" y="546" font-size="13" fill="#000" textLength="86.5" lengthAdjust="spacingAndGlyphs" >AUDUSD-,Daily</text>
<text x="331" y="546" font-size="13" fill="#6e6e6e" textLength="84" lengthAdjust="spacingAndGlyphs" >USDCHF-,Daily</text>
<text x="438" y="546" font-size="13" fill="#6e6e6e" textLength="85.5" lengthAdjust="spacingAndGlyphs" >USDCAD-,Daily</text>
<text x="546.5" y="546" font-size="13" fill="#6e6e6e" textLength="88" lengthAdjust="spacingAndGlyphs" >USDCNH-,Daily</text>
<text x="658.5" y="546" font-size="13" fill="#6e6e6e" textLength="84" lengthAdjust="spacingAndGlyphs" >XAUUSD-,M30</text>
<text x="766" y="546" font-size="13" fill="#6e6e6e" textLength="56" lengthAdjust="spacingAndGlyphs" >UKOil-,H1</text>
<text x="847" y="546" font-size="13" fill="#6e6e6e" textLength="64" lengthAdjust="spacingAndGlyphs" >DJ30-,Daily</text>
<text x="934" y="546" font-size="13" fill="#6e6e6e" textLength="61" lengthAdjust="spacingAndGlyphs" >UK100-,H1</text>
<rect x="103" y="534" width="1" height="14" fill="#707070" />
<rect x="427" y="534" width="1" height="14" fill="#707070" />
<rect x="535" y="534" width="1" height="14" fill="#707070" />
<rect x="647" y="534" width="1" height="14" fill="#707070" />
<rect x="754" y="534" width="1" height="14" fill="#707070" />
<rect x="835" y="534" width="1" height="14" fill="#707070" />
<rect x="923" y="534" width="1" height="14" fill="#707070" />
<rect x="1007" y="534" width="1" height="14" fill="#707070" />
<polygon points="1167.3,536.8 1167.3,543.2 1163.7,540" fill="#a6a6a6"/>
<polygon points="1182.6,536.8 1182.6,543.2 1186.2,540" fill="#a6a6a6"/>
</svg>
</body></html>
